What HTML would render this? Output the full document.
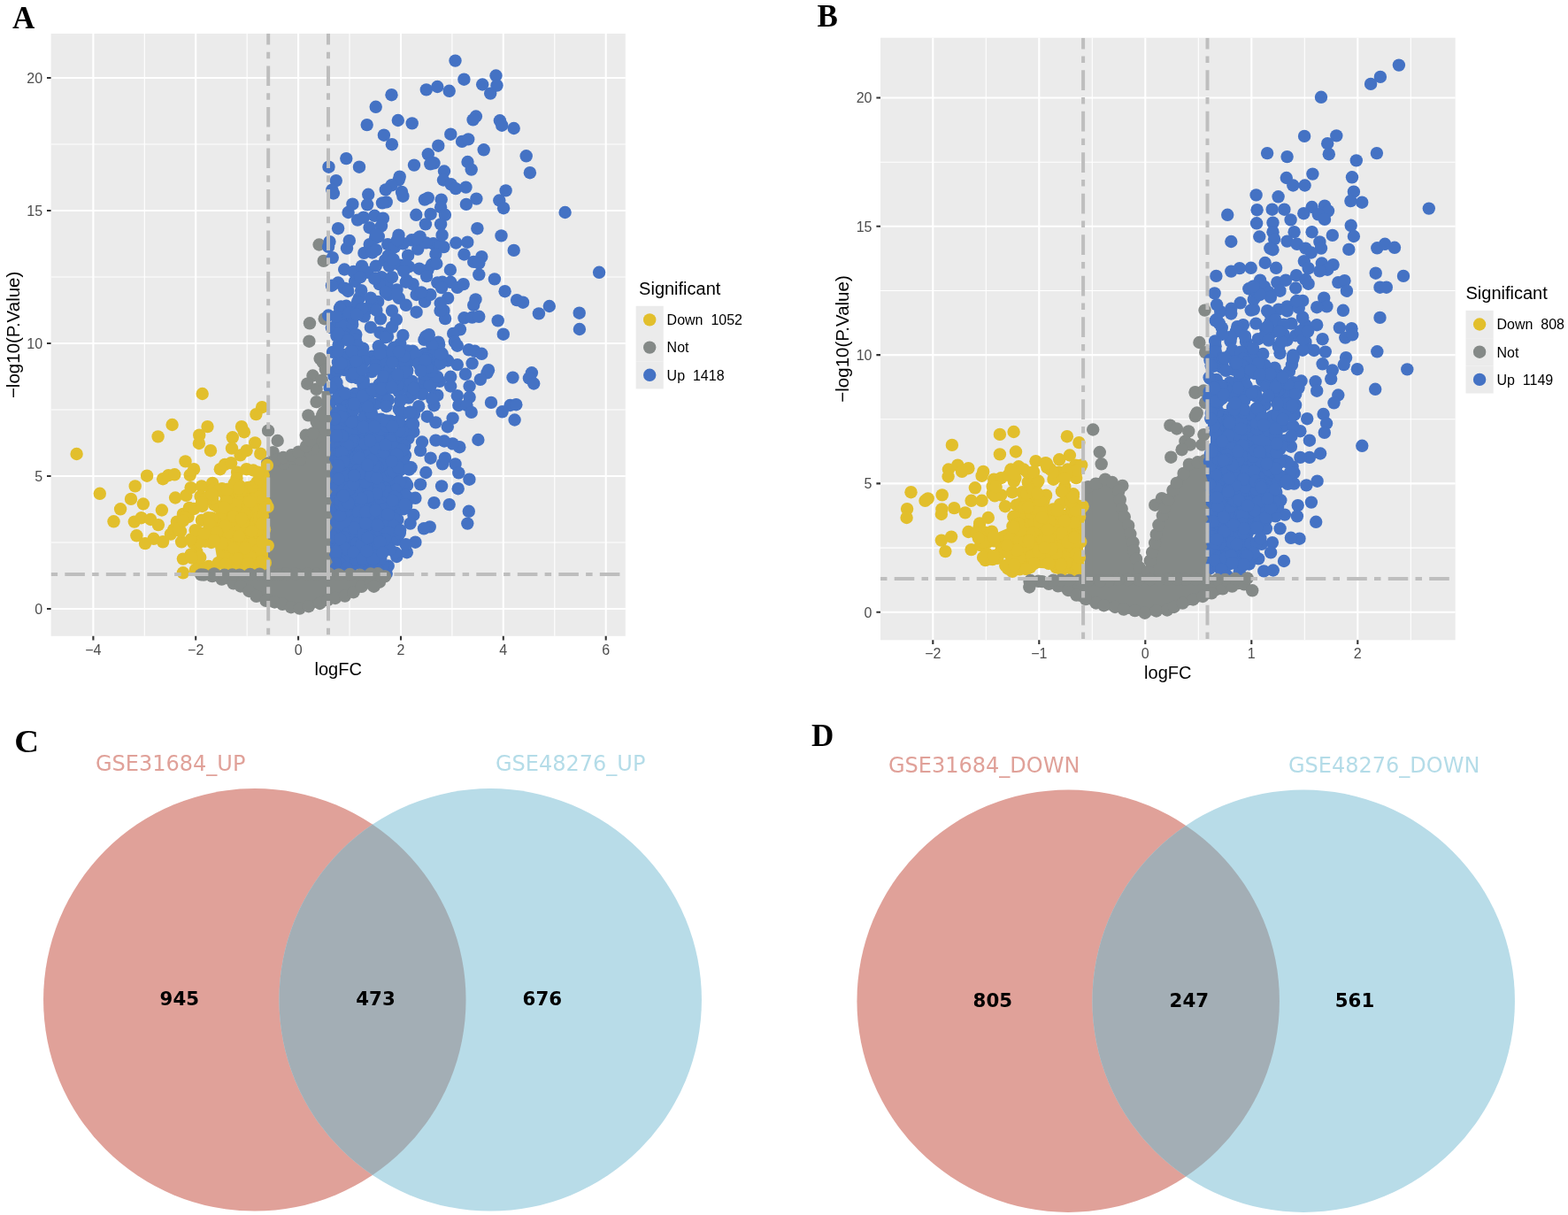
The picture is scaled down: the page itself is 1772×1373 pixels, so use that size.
<!DOCTYPE html>
<html><head><meta charset="utf-8"><title>Figure</title><style>
*{margin:0;padding:0}
html,body{width:1772px;height:1373px;background:#fff;overflow:hidden}
svg{display:block}
.tk{font-family:"Liberation Sans",Arial,sans-serif;font-size:16px;fill:#4D4D4D}
.ti{font-family:"Liberation Sans",Arial,sans-serif;font-size:20px;fill:#000}
.lg{font-family:"Liberation Sans",Arial,sans-serif;font-size:16px;fill:#000}
.pl{font-family:"Liberation Serif","Times New Roman",serif;font-size:35px;font-weight:bold;fill:#000}
.vl{font-family:"DejaVu Sans",sans-serif;font-size:24px}
.vn{font-family:"DejaVu Sans",sans-serif;font-size:21.3px;font-weight:bold;fill:#000}
</style></head>
<body><svg width="1772" height="1373" viewBox="0 0 1772 1373">
<rect width="1772" height="1373" fill="#fff"/>
<clipPath id="clipA"><rect x="57.6" y="38" width="649.2" height="680.8"/></clipPath>
<rect x="57.6" y="38" width="649.2" height="680.8" fill="#EBEBEB"/>
<path d="M163.3 38V718.8M279.2 38V718.8M395 38V718.8M510.9 38V718.8M626.8 38V718.8M57.6 613H706.8M57.6 463H706.8M57.6 313H706.8M57.6 163H706.8" stroke="#fff" stroke-width="1.1" fill="none"/>
<path d="M105.4 38V718.8M221.2 38V718.8M337.1 38V718.8M453 38V718.8M568.8 38V718.8M684.7 38V718.8M57.6 688H706.8M57.6 538H706.8M57.6 388H706.8M57.6 238H706.8M57.6 88H706.8" stroke="#fff" stroke-width="2.1" fill="none"/>
<g clip-path="url(#clipA)">
<polygon points="303.0,649.0 303.0,524.0 312.0,520.0 322.0,516.0 333.0,513.0 343.0,508.0 350.0,498.0 356.0,486.0 362.0,472.0 371.0,458.0 371.0,649.0" fill="#848987" stroke="#848987" stroke-width="8.5" stroke-linejoin="round"/>
<g fill="#848987"><circle cx="360.6" cy="276.5" r="7.2"/><circle cx="365.7" cy="294.9" r="7.2"/><circle cx="366.7" cy="360.2" r="7.2"/><circle cx="350.0" cy="365.3" r="7.2"/><circle cx="349.4" cy="385.7" r="7.2"/><circle cx="361.6" cy="405.1" r="7.2"/><circle cx="353.5" cy="424.5" r="7.2"/><circle cx="347.3" cy="433.7" r="7.2"/><circle cx="357.6" cy="439.8" r="7.2"/><circle cx="363.7" cy="429.6" r="7.2"/><circle cx="357.6" cy="454.1" r="7.2"/><circle cx="348.4" cy="469.4" r="7.2"/><circle cx="357.6" cy="476.5" r="7.2"/><circle cx="365.7" cy="466.3" r="7.2"/><circle cx="345.7" cy="491.8" r="7.2"/><circle cx="303.1" cy="486.7" r="7.2"/><circle cx="313.7" cy="498.0" r="7.2"/><circle cx="308.6" cy="511.2" r="7.2"/><circle cx="331.0" cy="517.3" r="7.2"/><circle cx="339.2" cy="519.4" r="7.2"/><circle cx="320.8" cy="523.5" r="7.2"/><circle cx="357.6" cy="494.9" r="7.2"/><circle cx="365.7" cy="484.7" r="7.2"/><circle cx="353.5" cy="507.1" r="7.2"/><circle cx="364.7" cy="409.2" r="7.2"/><circle cx="367.8" cy="417.3" r="7.2"/><circle cx="302.2" cy="523.4" r="7.2"/><circle cx="312.5" cy="519.3" r="7.2"/><circle cx="320.0" cy="517.0" r="7.2"/><circle cx="329.4" cy="514.3" r="7.2"/><circle cx="337.4" cy="510.7" r="7.2"/><circle cx="346.0" cy="504.2" r="7.2"/><circle cx="350.8" cy="497.7" r="7.2"/><circle cx="353.9" cy="489.4" r="7.2"/><circle cx="358.8" cy="477.9" r="7.2"/><circle cx="364.2" cy="469.4" r="7.2"/><circle cx="370.4" cy="458.2" r="7.2"/></g>
<polygon points="303.0,540.0 260.0,556.0 245.0,575.0 240.0,600.0 245.0,630.0 250.0,645.0 303.0,645.0" fill="#E2BF2C"/>
<g fill="#E2BF2C"><circle cx="228.7" cy="445.0" r="7.2"/><circle cx="296.1" cy="460.2" r="7.2"/><circle cx="289.4" cy="468.1" r="7.2"/><circle cx="194.6" cy="480.0" r="7.2"/><circle cx="178.6" cy="493.4" r="7.2"/><circle cx="234.5" cy="482.1" r="7.2"/><circle cx="225.2" cy="491.7" r="7.2"/><circle cx="224.9" cy="501.0" r="7.2"/><circle cx="238.0" cy="509.2" r="7.2"/><circle cx="273.0" cy="482.1" r="7.2"/><circle cx="275.9" cy="488.2" r="7.2"/><circle cx="262.8" cy="494.3" r="7.2"/><circle cx="262.0" cy="506.6" r="7.2"/><circle cx="271.6" cy="514.4" r="7.2"/><circle cx="278.6" cy="509.2" r="7.2"/><circle cx="288.2" cy="500.4" r="7.2"/><circle cx="294.3" cy="512.7" r="7.2"/><circle cx="86.6" cy="513.0" r="7.2"/><circle cx="209.5" cy="521.4" r="7.2"/><circle cx="219.1" cy="530.2" r="7.2"/><circle cx="214.7" cy="536.8" r="7.2"/><circle cx="166.1" cy="537.7" r="7.2"/><circle cx="184.1" cy="541.2" r="7.2"/><circle cx="190.3" cy="537.2" r="7.2"/><circle cx="197.3" cy="536.3" r="7.2"/><circle cx="152.7" cy="549.4" r="7.2"/><circle cx="112.8" cy="557.8" r="7.2"/><circle cx="148.0" cy="563.9" r="7.2"/><circle cx="161.9" cy="569.5" r="7.2"/><circle cx="136.1" cy="575.3" r="7.2"/><circle cx="182.9" cy="576.5" r="7.2"/><circle cx="128.5" cy="589.3" r="7.2"/><circle cx="151.8" cy="589.6" r="7.2"/><circle cx="159.7" cy="585.2" r="7.2"/><circle cx="170.2" cy="587.0" r="7.2"/><circle cx="178.9" cy="593.1" r="7.2"/><circle cx="154.4" cy="605.3" r="7.2"/><circle cx="164.0" cy="614.1" r="7.2"/><circle cx="173.7" cy="608.8" r="7.2"/><circle cx="184.1" cy="612.3" r="7.2"/><circle cx="198.1" cy="562.5" r="7.2"/><circle cx="210.4" cy="559.9" r="7.2"/><circle cx="215.6" cy="551.1" r="7.2"/><circle cx="227.9" cy="549.4" r="7.2"/><circle cx="240.1" cy="545.9" r="7.2"/><circle cx="248.8" cy="530.2" r="7.2"/><circle cx="254.1" cy="524.9" r="7.2"/><circle cx="261.1" cy="523.2" r="7.2"/><circle cx="278.6" cy="530.2" r="7.2"/><circle cx="268.1" cy="533.7" r="7.2"/><circle cx="199.9" cy="589.6" r="7.2"/><circle cx="206.9" cy="580.9" r="7.2"/><circle cx="213.9" cy="573.9" r="7.2"/><circle cx="227.9" cy="587.9" r="7.2"/><circle cx="206.9" cy="631.6" r="7.2"/><circle cx="206.9" cy="647.3" r="7.2"/><circle cx="220.9" cy="643.8" r="7.2"/><circle cx="205.1" cy="612.3" r="7.2"/><circle cx="192.9" cy="603.6" r="7.2"/><circle cx="196.4" cy="598.4" r="7.2"/><circle cx="217.0" cy="610.5" r="7.2"/><circle cx="265.4" cy="584.4" r="7.2"/><circle cx="222.2" cy="623.3" r="7.2"/><circle cx="283.2" cy="588.5" r="7.2"/><circle cx="252.0" cy="554.3" r="7.2"/><circle cx="281.8" cy="553.8" r="7.2"/><circle cx="302.7" cy="616.6" r="7.2"/><circle cx="290.1" cy="601.4" r="7.2"/><circle cx="298.1" cy="570.7" r="7.2"/><circle cx="215.9" cy="626.4" r="7.2"/><circle cx="246.7" cy="593.4" r="7.2"/><circle cx="235.3" cy="585.1" r="7.2"/><circle cx="289.2" cy="554.1" r="7.2"/><circle cx="280.4" cy="550.9" r="7.2"/><circle cx="299.8" cy="635.9" r="7.2"/><circle cx="277.7" cy="619.6" r="7.2"/><circle cx="259.8" cy="615.5" r="7.2"/><circle cx="212.6" cy="584.1" r="7.2"/><circle cx="285.2" cy="549.9" r="7.2"/><circle cx="295.1" cy="635.1" r="7.2"/><circle cx="242.2" cy="570.3" r="7.2"/><circle cx="246.5" cy="572.8" r="7.2"/><circle cx="302.5" cy="572.9" r="7.2"/><circle cx="274.0" cy="648.1" r="7.2"/><circle cx="251.1" cy="586.0" r="7.2"/><circle cx="256.7" cy="617.8" r="7.2"/><circle cx="222.9" cy="600.5" r="7.2"/><circle cx="257.3" cy="602.2" r="7.2"/><circle cx="235.9" cy="640.0" r="7.2"/><circle cx="235.7" cy="599.1" r="7.2"/><circle cx="280.0" cy="571.5" r="7.2"/><circle cx="270.4" cy="608.8" r="7.2"/><circle cx="292.6" cy="643.8" r="7.2"/><circle cx="241.9" cy="647.6" r="7.2"/><circle cx="299.0" cy="598.2" r="7.2"/><circle cx="291.0" cy="585.9" r="7.2"/><circle cx="238.7" cy="555.7" r="7.2"/><circle cx="290.2" cy="545.1" r="7.2"/><circle cx="279.7" cy="584.9" r="7.2"/><circle cx="286.2" cy="531.5" r="7.2"/><circle cx="226.6" cy="560.9" r="7.2"/><circle cx="292.6" cy="646.9" r="7.2"/><circle cx="276.8" cy="584.4" r="7.2"/><circle cx="226.0" cy="643.9" r="7.2"/><circle cx="254.1" cy="615.3" r="7.2"/><circle cx="286.3" cy="623.6" r="7.2"/><circle cx="290.8" cy="599.6" r="7.2"/><circle cx="243.9" cy="597.1" r="7.2"/><circle cx="287.5" cy="563.2" r="7.2"/><circle cx="255.0" cy="559.2" r="7.2"/><circle cx="270.6" cy="643.3" r="7.2"/><circle cx="202.4" cy="598.6" r="7.2"/><circle cx="266.3" cy="630.6" r="7.2"/><circle cx="260.2" cy="556.9" r="7.2"/><circle cx="241.8" cy="643.9" r="7.2"/><circle cx="293.3" cy="541.6" r="7.2"/><circle cx="267.5" cy="540.7" r="7.2"/><circle cx="255.5" cy="565.2" r="7.2"/><circle cx="250.9" cy="552.2" r="7.2"/><circle cx="238.9" cy="613.0" r="7.2"/><circle cx="273.2" cy="633.4" r="7.2"/><circle cx="279.7" cy="623.0" r="7.2"/><circle cx="218.1" cy="613.2" r="7.2"/><circle cx="226.0" cy="611.4" r="7.2"/><circle cx="240.1" cy="563.4" r="7.2"/><circle cx="292.8" cy="561.6" r="7.2"/><circle cx="251.8" cy="593.1" r="7.2"/><circle cx="297.7" cy="537.2" r="7.2"/><circle cx="261.9" cy="588.0" r="7.2"/><circle cx="275.7" cy="644.9" r="7.2"/><circle cx="231.9" cy="611.7" r="7.2"/><circle cx="254.2" cy="594.5" r="7.2"/><circle cx="300.6" cy="569.0" r="7.2"/><circle cx="232.8" cy="648.2" r="7.2"/><circle cx="278.3" cy="580.6" r="7.2"/><circle cx="266.4" cy="579.9" r="7.2"/><circle cx="253.3" cy="573.3" r="7.2"/><circle cx="241.4" cy="553.0" r="7.2"/><circle cx="225.4" cy="612.3" r="7.2"/><circle cx="284.2" cy="614.7" r="7.2"/><circle cx="247.0" cy="554.3" r="7.2"/><circle cx="239.7" cy="585.4" r="7.2"/><circle cx="265.1" cy="644.4" r="7.2"/><circle cx="208.8" cy="584.5" r="7.2"/><circle cx="250.7" cy="613.9" r="7.2"/><circle cx="291.7" cy="621.7" r="7.2"/><circle cx="264.6" cy="619.1" r="7.2"/><circle cx="268.8" cy="631.5" r="7.2"/><circle cx="272.0" cy="609.7" r="7.2"/><circle cx="225.3" cy="638.7" r="7.2"/><circle cx="239.8" cy="601.2" r="7.2"/><circle cx="285.0" cy="644.5" r="7.2"/><circle cx="301.9" cy="525.8" r="7.2"/><circle cx="232.2" cy="563.7" r="7.2"/><circle cx="231.2" cy="642.0" r="7.2"/><circle cx="276.5" cy="582.3" r="7.2"/><circle cx="272.5" cy="550.5" r="7.2"/><circle cx="234.5" cy="604.6" r="7.2"/><circle cx="270.2" cy="557.3" r="7.2"/><circle cx="298.0" cy="564.9" r="7.2"/><circle cx="226.2" cy="629.8" r="7.2"/><circle cx="215.8" cy="609.5" r="7.2"/><circle cx="220.6" cy="599.1" r="7.2"/><circle cx="228.6" cy="572.0" r="7.2"/><circle cx="296.9" cy="582.9" r="7.2"/><circle cx="245.0" cy="601.5" r="7.2"/><circle cx="239.6" cy="558.8" r="7.2"/><circle cx="296.3" cy="612.4" r="7.2"/><circle cx="204.0" cy="600.4" r="7.2"/><circle cx="272.1" cy="554.8" r="7.2"/><circle cx="200.8" cy="592.5" r="7.2"/><circle cx="246.8" cy="635.9" r="7.2"/><circle cx="281.5" cy="627.0" r="7.2"/><circle cx="219.3" cy="575.0" r="7.2"/><circle cx="256.8" cy="552.9" r="7.2"/><circle cx="282.6" cy="629.6" r="7.2"/><circle cx="295.3" cy="634.6" r="7.2"/><circle cx="201.8" cy="597.2" r="7.2"/><circle cx="276.9" cy="619.2" r="7.2"/><circle cx="284.0" cy="600.2" r="7.2"/><circle cx="263.9" cy="583.4" r="7.2"/><circle cx="282.4" cy="566.9" r="7.2"/><circle cx="227.8" cy="568.8" r="7.2"/><circle cx="230.7" cy="602.8" r="7.2"/><circle cx="291.7" cy="533.8" r="7.2"/><circle cx="207.0" cy="588.5" r="7.2"/><circle cx="269.8" cy="548.5" r="7.2"/><circle cx="270.1" cy="606.0" r="7.2"/><circle cx="295.9" cy="591.8" r="7.2"/><circle cx="242.1" cy="610.7" r="7.2"/><circle cx="275.0" cy="590.0" r="7.2"/><circle cx="236.3" cy="591.0" r="7.2"/><circle cx="264.7" cy="546.6" r="7.2"/><circle cx="273.1" cy="586.2" r="7.2"/><circle cx="216.7" cy="630.5" r="7.2"/><circle cx="283.1" cy="637.4" r="7.2"/><circle cx="270.0" cy="551.9" r="7.2"/><circle cx="280.1" cy="636.9" r="7.2"/><circle cx="254.9" cy="637.7" r="7.2"/><circle cx="299.9" cy="573.4" r="7.2"/></g>
<polygon points="373.0,470.0 455.0,470.0 455.0,540.0 452.0,600.0 445.0,620.0 430.0,635.0 373.0,644.0" fill="#4472C4"/>
<g fill="#4472C4"><circle cx="514.5" cy="68.6" r="7.2"/><circle cx="524.4" cy="89.7" r="7.2"/><circle cx="560.5" cy="85.5" r="7.2"/><circle cx="545.2" cy="95.5" r="7.2"/><circle cx="561.5" cy="96.6" r="7.2"/><circle cx="554.2" cy="105.6" r="7.2"/><circle cx="481.8" cy="101.4" r="7.2"/><circle cx="494.3" cy="98.0" r="7.2"/><circle cx="507.7" cy="102.8" r="7.2"/><circle cx="442.5" cy="107.2" r="7.2"/><circle cx="424.7" cy="120.8" r="7.2"/><circle cx="414.7" cy="141.1" r="7.2"/><circle cx="449.8" cy="136.0" r="7.2"/><circle cx="465.7" cy="139.4" r="7.2"/><circle cx="433.9" cy="152.7" r="7.2"/><circle cx="442.9" cy="163.2" r="7.2"/><circle cx="537.9" cy="131.5" r="7.2"/><circle cx="534.6" cy="135.4" r="7.2"/><circle cx="564.9" cy="136.3" r="7.2"/><circle cx="567.2" cy="141.7" r="7.2"/><circle cx="580.7" cy="145.0" r="7.2"/><circle cx="509.3" cy="151.7" r="7.2"/><circle cx="522.1" cy="159.9" r="7.2"/><circle cx="529.2" cy="157.4" r="7.2"/><circle cx="495.3" cy="164.7" r="7.2"/><circle cx="546.7" cy="169.3" r="7.2"/><circle cx="594.7" cy="176.3" r="7.2"/><circle cx="598.9" cy="195.2" r="7.2"/><circle cx="483.8" cy="174.3" r="7.2"/><circle cx="490.5" cy="184.3" r="7.2"/><circle cx="486.3" cy="185.3" r="7.2"/><circle cx="468.0" cy="186.6" r="7.2"/><circle cx="391.3" cy="179.1" r="7.2"/><circle cx="406.0" cy="188.7" r="7.2"/><circle cx="371.5" cy="188.7" r="7.2"/><circle cx="528.5" cy="183.0" r="7.2"/><circle cx="532.7" cy="191.6" r="7.2"/><circle cx="502.0" cy="193.5" r="7.2"/><circle cx="501.0" cy="203.5" r="7.2"/><circle cx="509.7" cy="208.3" r="7.2"/><circle cx="515.0" cy="213.1" r="7.2"/><circle cx="526.5" cy="211.6" r="7.2"/><circle cx="571.6" cy="215.4" r="7.2"/><circle cx="379.8" cy="204.1" r="7.2"/><circle cx="375.3" cy="214.6" r="7.2"/><circle cx="376.9" cy="218.5" r="7.2"/><circle cx="451.7" cy="199.7" r="7.2"/><circle cx="450.6" cy="203.5" r="7.2"/><circle cx="442.5" cy="209.3" r="7.2"/><circle cx="435.8" cy="214.4" r="7.2"/><circle cx="454.0" cy="216.9" r="7.2"/><circle cx="455.4" cy="221.7" r="7.2"/><circle cx="416.2" cy="219.8" r="7.2"/><circle cx="415.1" cy="231.3" r="7.2"/><circle cx="398.4" cy="230.7" r="7.2"/><circle cx="393.6" cy="240.0" r="7.2"/><circle cx="404.1" cy="248.6" r="7.2"/><circle cx="410.8" cy="245.7" r="7.2"/><circle cx="423.3" cy="243.8" r="7.2"/><circle cx="432.9" cy="246.7" r="7.2"/><circle cx="431.0" cy="255.3" r="7.2"/><circle cx="436.7" cy="228.4" r="7.2"/><circle cx="432.0" cy="229.4" r="7.2"/><circle cx="479.9" cy="225.6" r="7.2"/><circle cx="483.8" cy="223.6" r="7.2"/><circle cx="498.7" cy="225.6" r="7.2"/><circle cx="498.1" cy="234.2" r="7.2"/><circle cx="526.9" cy="230.9" r="7.2"/><circle cx="538.4" cy="224.6" r="7.2"/><circle cx="564.3" cy="226.5" r="7.2"/><circle cx="569.1" cy="235.2" r="7.2"/><circle cx="638.6" cy="240.0" r="7.2"/><circle cx="470.3" cy="242.8" r="7.2"/><circle cx="486.6" cy="241.9" r="7.2"/><circle cx="502.9" cy="242.8" r="7.2"/><circle cx="480.9" cy="253.4" r="7.2"/><circle cx="498.1" cy="253.4" r="7.2"/><circle cx="382.1" cy="258.2" r="7.2"/><circle cx="417.6" cy="257.2" r="7.2"/><circle cx="539.4" cy="258.2" r="7.2"/><circle cx="566.5" cy="266.4" r="7.2"/><circle cx="515.3" cy="274.5" r="7.2"/><circle cx="528.3" cy="273.7" r="7.2"/><circle cx="501.5" cy="279.1" r="7.2"/><circle cx="524.5" cy="287.5" r="7.2"/><circle cx="544.3" cy="290.1" r="7.2"/><circle cx="535.2" cy="295.9" r="7.2"/><circle cx="541.3" cy="297.4" r="7.2"/><circle cx="580.7" cy="282.9" r="7.2"/><circle cx="508.9" cy="305.0" r="7.2"/><circle cx="541.3" cy="310.4" r="7.2"/><circle cx="558.9" cy="315.4" r="7.2"/><circle cx="677.1" cy="307.8" r="7.2"/><circle cx="500.0" cy="318.8" r="7.2"/><circle cx="509.2" cy="318.8" r="7.2"/><circle cx="516.8" cy="324.9" r="7.2"/><circle cx="523.7" cy="321.1" r="7.2"/><circle cx="570.6" cy="329.2" r="7.2"/><circle cx="584.1" cy="339.1" r="7.2"/><circle cx="591.0" cy="341.7" r="7.2"/><circle cx="620.8" cy="346.0" r="7.2"/><circle cx="608.9" cy="354.4" r="7.2"/><circle cx="654.7" cy="353.7" r="7.2"/><circle cx="654.9" cy="372.0" r="7.2"/><circle cx="506.1" cy="336.9" r="7.2"/><circle cx="537.5" cy="338.4" r="7.2"/><circle cx="535.2" cy="344.8" r="7.2"/><circle cx="501.5" cy="350.9" r="7.2"/><circle cx="503.1" cy="360.1" r="7.2"/><circle cx="524.5" cy="359.3" r="7.2"/><circle cx="533.6" cy="358.6" r="7.2"/><circle cx="541.3" cy="357.8" r="7.2"/><circle cx="562.7" cy="362.4" r="7.2"/><circle cx="568.8" cy="377.7" r="7.2"/><circle cx="519.9" cy="372.3" r="7.2"/><circle cx="512.2" cy="376.9" r="7.2"/><circle cx="513.8" cy="386.1" r="7.2"/><circle cx="516.8" cy="390.7" r="7.2"/><circle cx="529.8" cy="395.3" r="7.2"/><circle cx="536.7" cy="396.8" r="7.2"/><circle cx="544.3" cy="399.8" r="7.2"/><circle cx="533.6" cy="410.6" r="7.2"/><circle cx="506.1" cy="407.5" r="7.2"/><circle cx="516.8" cy="412.1" r="7.2"/><circle cx="526.0" cy="422.8" r="7.2"/><circle cx="552.0" cy="418.2" r="7.2"/><circle cx="550.5" cy="421.3" r="7.2"/><circle cx="542.8" cy="428.9" r="7.2"/><circle cx="530.6" cy="436.5" r="7.2"/><circle cx="509.2" cy="425.8" r="7.2"/><circle cx="509.2" cy="436.5" r="7.2"/><circle cx="516.8" cy="447.2" r="7.2"/><circle cx="530.6" cy="448.8" r="7.2"/><circle cx="579.5" cy="426.6" r="7.2"/><circle cx="600.9" cy="421.3" r="7.2"/><circle cx="597.9" cy="427.4" r="7.2"/><circle cx="603.2" cy="433.5" r="7.2"/><circle cx="555.0" cy="454.9" r="7.2"/><circle cx="576.5" cy="458.0" r="7.2"/><circle cx="583.3" cy="457.2" r="7.2"/><circle cx="518.3" cy="458.0" r="7.2"/><circle cx="527.5" cy="458.0" r="7.2"/><circle cx="371.1" cy="278.8" r="7.2"/><circle cx="375.8" cy="291.1" r="7.2"/><circle cx="424.0" cy="269.0" r="7.2"/><circle cx="417.7" cy="276.1" r="7.2"/><circle cx="411.4" cy="285.9" r="7.2"/><circle cx="438.2" cy="276.1" r="7.2"/><circle cx="443.0" cy="280.8" r="7.2"/><circle cx="465.1" cy="271.3" r="7.2"/><circle cx="474.6" cy="267.4" r="7.2"/><circle cx="472.2" cy="281.6" r="7.2"/><circle cx="489.6" cy="275.3" r="7.2"/><circle cx="497.5" cy="277.7" r="7.2"/><circle cx="461.1" cy="288.7" r="7.2"/><circle cx="488.0" cy="299.0" r="7.2"/><circle cx="483.3" cy="305.3" r="7.2"/><circle cx="473.8" cy="303.7" r="7.2"/><circle cx="389.2" cy="304.5" r="7.2"/><circle cx="399.5" cy="306.9" r="7.2"/><circle cx="409.0" cy="300.6" r="7.2"/><circle cx="415.3" cy="307.7" r="7.2"/><circle cx="424.8" cy="300.6" r="7.2"/><circle cx="435.1" cy="294.2" r="7.2"/><circle cx="439.8" cy="300.6" r="7.2"/><circle cx="452.4" cy="299.8" r="7.2"/><circle cx="461.9" cy="301.4" r="7.2"/><circle cx="431.1" cy="313.2" r="7.2"/><circle cx="437.4" cy="321.1" r="7.2"/><circle cx="443.0" cy="313.2" r="7.2"/><circle cx="382.1" cy="319.5" r="7.2"/><circle cx="375.0" cy="322.7" r="7.2"/><circle cx="392.4" cy="326.6" r="7.2"/><circle cx="401.1" cy="317.9" r="7.2"/><circle cx="408.2" cy="328.2" r="7.2"/><circle cx="405.8" cy="336.9" r="7.2"/><circle cx="466.7" cy="321.1" r="7.2"/><circle cx="458.8" cy="318.7" r="7.2"/><circle cx="470.6" cy="333.0" r="7.2"/><circle cx="480.1" cy="340.9" r="7.2"/><circle cx="486.4" cy="333.0" r="7.2"/><circle cx="494.3" cy="319.5" r="7.2"/><circle cx="499.1" cy="325.1" r="7.2"/><circle cx="385.3" cy="346.4" r="7.2"/><circle cx="427.2" cy="340.9" r="7.2"/><circle cx="420.0" cy="340.9" r="7.2"/><circle cx="439.0" cy="333.0" r="7.2"/><circle cx="450.9" cy="336.9" r="7.2"/><circle cx="458.8" cy="344.8" r="7.2"/><circle cx="497.5" cy="351.1" r="7.2"/><circle cx="404.2" cy="348.8" r="7.2"/><circle cx="415.3" cy="348.8" r="7.2"/><circle cx="443.0" cy="351.1" r="7.2"/><circle cx="470.6" cy="352.7" r="7.2"/><circle cx="428.7" cy="321.1" r="7.2"/><circle cx="448.5" cy="327.4" r="7.2"/><circle cx="423.2" cy="314.8" r="7.2"/><circle cx="567.6" cy="465.3" r="7.2"/><circle cx="581.6" cy="474.5" r="7.2"/><circle cx="540.4" cy="497.0" r="7.2"/><circle cx="532.7" cy="465.9" r="7.2"/><circle cx="482.8" cy="470.7" r="7.2"/><circle cx="492.4" cy="477.4" r="7.2"/><circle cx="505.8" cy="482.2" r="7.2"/><circle cx="511.6" cy="472.6" r="7.2"/><circle cx="519.3" cy="505.2" r="7.2"/><circle cx="511.6" cy="501.4" r="7.2"/><circle cx="502.0" cy="498.5" r="7.2"/><circle cx="492.4" cy="497.6" r="7.2"/><circle cx="475.1" cy="509.1" r="7.2"/><circle cx="486.6" cy="517.7" r="7.2"/><circle cx="500.1" cy="524.4" r="7.2"/><circle cx="502.9" cy="517.7" r="7.2"/><circle cx="514.5" cy="524.4" r="7.2"/><circle cx="518.3" cy="534.4" r="7.2"/><circle cx="530.4" cy="541.7" r="7.2"/><circle cx="481.3" cy="534.0" r="7.2"/><circle cx="499.1" cy="549.4" r="7.2"/><circle cx="517.7" cy="552.2" r="7.2"/><circle cx="490.5" cy="568.2" r="7.2"/><circle cx="507.7" cy="570.1" r="7.2"/><circle cx="529.8" cy="577.8" r="7.2"/><circle cx="528.3" cy="591.6" r="7.2"/><circle cx="485.7" cy="595.4" r="7.2"/><circle cx="479.0" cy="597.3" r="7.2"/><circle cx="467.4" cy="582.0" r="7.2"/><circle cx="463.6" cy="591.6" r="7.2"/><circle cx="469.4" cy="612.7" r="7.2"/><circle cx="459.8" cy="624.2" r="7.2"/><circle cx="448.3" cy="629.0" r="7.2"/><circle cx="438.7" cy="639.5" r="7.2"/><circle cx="436.7" cy="648.2" r="7.2"/><circle cx="464.6" cy="528.3" r="7.2"/><circle cx="475.1" cy="547.4" r="7.2"/><circle cx="469.4" cy="562.8" r="7.2"/><circle cx="467.4" cy="488.0" r="7.2"/><circle cx="477.0" cy="499.5" r="7.2"/><circle cx="490.5" cy="458.2" r="7.2"/><circle cx="473.2" cy="459.2" r="7.2"/><circle cx="494.3" cy="446.7" r="7.2"/><circle cx="445.1" cy="297.6" r="7.2"/><circle cx="446.0" cy="279.1" r="7.2"/><circle cx="476.1" cy="330.4" r="7.2"/><circle cx="455.6" cy="275.3" r="7.2"/><circle cx="438.6" cy="289.2" r="7.2"/><circle cx="404.0" cy="341.1" r="7.2"/><circle cx="499.6" cy="265.7" r="7.2"/><circle cx="482.1" cy="312.1" r="7.2"/><circle cx="420.8" cy="285.5" r="7.2"/><circle cx="458.4" cy="299.9" r="7.2"/><circle cx="459.8" cy="316.9" r="7.2"/><circle cx="389.0" cy="325.7" r="7.2"/><circle cx="497.7" cy="342.5" r="7.2"/><circle cx="450.5" cy="265.7" r="7.2"/><circle cx="372.5" cy="273.1" r="7.2"/><circle cx="492.4" cy="287.1" r="7.2"/><circle cx="418.9" cy="336.6" r="7.2"/><circle cx="412.2" cy="307.6" r="7.2"/><circle cx="427.8" cy="267.4" r="7.2"/><circle cx="446.8" cy="332.1" r="7.2"/><circle cx="392.0" cy="280.6" r="7.2"/><circle cx="424.8" cy="265.1" r="7.2"/><circle cx="435.6" cy="329.9" r="7.2"/><circle cx="456.2" cy="306.3" r="7.2"/><circle cx="481.5" cy="274.4" r="7.2"/><circle cx="444.6" cy="293.1" r="7.2"/><circle cx="449.0" cy="271.4" r="7.2"/><circle cx="471.3" cy="270.0" r="7.2"/><circle cx="393.3" cy="329.0" r="7.2"/><circle cx="493.3" cy="298.0" r="7.2"/><circle cx="425.0" cy="282.4" r="7.2"/><circle cx="407.2" cy="313.2" r="7.2"/><circle cx="394.8" cy="271.9" r="7.2"/><circle cx="429.4" cy="375.8" r="7.2"/><circle cx="436.5" cy="377.3" r="7.2"/><circle cx="394.8" cy="373.2" r="7.2"/><circle cx="452.3" cy="388.6" r="7.2"/><circle cx="383.1" cy="361.7" r="7.2"/><circle cx="382.7" cy="389.5" r="7.2"/><circle cx="497.7" cy="398.1" r="7.2"/><circle cx="455.4" cy="378.9" r="7.2"/><circle cx="391.3" cy="345.8" r="7.2"/><circle cx="395.5" cy="358.3" r="7.2"/><circle cx="374.9" cy="370.5" r="7.2"/><circle cx="427.8" cy="391.3" r="7.2"/><circle cx="438.0" cy="380.2" r="7.2"/><circle cx="435.5" cy="381.4" r="7.2"/><circle cx="430.0" cy="360.3" r="7.2"/><circle cx="499.7" cy="399.8" r="7.2"/><circle cx="479.4" cy="383.9" r="7.2"/><circle cx="411.7" cy="357.6" r="7.2"/><circle cx="408.3" cy="348.9" r="7.2"/><circle cx="494.6" cy="391.6" r="7.2"/><circle cx="371.1" cy="356.5" r="7.2"/><circle cx="380.4" cy="379.6" r="7.2"/><circle cx="382.2" cy="363.3" r="7.2"/><circle cx="495.4" cy="386.7" r="7.2"/><circle cx="386.2" cy="358.6" r="7.2"/><circle cx="384.0" cy="348.3" r="7.2"/><circle cx="443.1" cy="369.6" r="7.2"/><circle cx="395.6" cy="385.3" r="7.2"/><circle cx="387.9" cy="380.4" r="7.2"/><circle cx="386.0" cy="368.1" r="7.2"/><circle cx="398.5" cy="359.8" r="7.2"/><circle cx="496.2" cy="389.2" r="7.2"/><circle cx="410.2" cy="393.7" r="7.2"/><circle cx="398.2" cy="366.7" r="7.2"/><circle cx="481.2" cy="380.3" r="7.2"/><circle cx="383.9" cy="399.4" r="7.2"/><circle cx="398.5" cy="359.2" r="7.2"/><circle cx="409.2" cy="349.0" r="7.2"/><circle cx="382.6" cy="377.1" r="7.2"/><circle cx="402.3" cy="378.1" r="7.2"/><circle cx="418.9" cy="369.9" r="7.2"/><circle cx="445.1" cy="392.7" r="7.2"/><circle cx="394.6" cy="353.5" r="7.2"/><circle cx="488.2" cy="390.0" r="7.2"/><circle cx="403.2" cy="355.4" r="7.2"/><circle cx="466.4" cy="396.7" r="7.2"/><circle cx="396.4" cy="397.3" r="7.2"/><circle cx="484.8" cy="378.2" r="7.2"/><circle cx="425.4" cy="350.7" r="7.2"/><circle cx="376.0" cy="397.9" r="7.2"/><circle cx="401.8" cy="383.8" r="7.2"/><circle cx="404.2" cy="390.3" r="7.2"/><circle cx="447.9" cy="361.1" r="7.2"/><circle cx="393.6" cy="384.6" r="7.2"/><circle cx="379.9" cy="357.6" r="7.2"/><circle cx="432.2" cy="562.7" r="7.2"/><circle cx="457.0" cy="431.4" r="7.2"/><circle cx="372.4" cy="490.6" r="7.2"/><circle cx="406.4" cy="601.6" r="7.2"/><circle cx="460.1" cy="548.4" r="7.2"/><circle cx="443.0" cy="563.6" r="7.2"/><circle cx="389.7" cy="507.2" r="7.2"/><circle cx="391.9" cy="626.0" r="7.2"/><circle cx="378.6" cy="603.8" r="7.2"/><circle cx="380.6" cy="570.2" r="7.2"/><circle cx="414.5" cy="498.2" r="7.2"/><circle cx="479.7" cy="399.7" r="7.2"/><circle cx="378.8" cy="628.3" r="7.2"/><circle cx="436.7" cy="418.2" r="7.2"/><circle cx="385.5" cy="502.9" r="7.2"/><circle cx="388.4" cy="474.7" r="7.2"/><circle cx="451.2" cy="436.7" r="7.2"/><circle cx="460.9" cy="408.1" r="7.2"/><circle cx="393.1" cy="603.0" r="7.2"/><circle cx="422.7" cy="501.8" r="7.2"/><circle cx="447.9" cy="516.6" r="7.2"/><circle cx="420.6" cy="402.8" r="7.2"/><circle cx="417.0" cy="487.6" r="7.2"/><circle cx="460.0" cy="566.8" r="7.2"/><circle cx="385.7" cy="454.9" r="7.2"/><circle cx="417.9" cy="525.4" r="7.2"/><circle cx="374.6" cy="604.8" r="7.2"/><circle cx="426.5" cy="527.3" r="7.2"/><circle cx="399.7" cy="503.9" r="7.2"/><circle cx="421.1" cy="591.8" r="7.2"/><circle cx="384.2" cy="535.2" r="7.2"/><circle cx="394.0" cy="572.5" r="7.2"/><circle cx="375.8" cy="465.5" r="7.2"/><circle cx="415.4" cy="557.4" r="7.2"/><circle cx="377.7" cy="512.1" r="7.2"/><circle cx="397.9" cy="466.9" r="7.2"/><circle cx="432.4" cy="639.5" r="7.2"/><circle cx="433.1" cy="638.8" r="7.2"/><circle cx="392.6" cy="630.7" r="7.2"/><circle cx="418.0" cy="443.3" r="7.2"/><circle cx="371.9" cy="463.4" r="7.2"/><circle cx="402.2" cy="397.2" r="7.2"/><circle cx="376.2" cy="552.9" r="7.2"/><circle cx="436.0" cy="401.1" r="7.2"/><circle cx="412.6" cy="595.8" r="7.2"/><circle cx="400.6" cy="529.4" r="7.2"/><circle cx="432.6" cy="554.9" r="7.2"/><circle cx="404.9" cy="636.4" r="7.2"/><circle cx="486.4" cy="436.3" r="7.2"/><circle cx="408.6" cy="617.7" r="7.2"/><circle cx="406.9" cy="635.7" r="7.2"/><circle cx="437.5" cy="572.5" r="7.2"/><circle cx="461.9" cy="449.6" r="7.2"/><circle cx="407.8" cy="460.0" r="7.2"/><circle cx="459.1" cy="572.0" r="7.2"/><circle cx="388.0" cy="621.0" r="7.2"/><circle cx="425.2" cy="456.5" r="7.2"/><circle cx="427.2" cy="644.8" r="7.2"/><circle cx="443.2" cy="554.3" r="7.2"/><circle cx="446.9" cy="624.7" r="7.2"/><circle cx="415.8" cy="489.0" r="7.2"/><circle cx="373.2" cy="576.1" r="7.2"/><circle cx="440.0" cy="596.2" r="7.2"/><circle cx="420.0" cy="420.1" r="7.2"/><circle cx="416.6" cy="474.6" r="7.2"/><circle cx="440.9" cy="553.6" r="7.2"/><circle cx="387.1" cy="531.2" r="7.2"/><circle cx="461.4" cy="495.5" r="7.2"/><circle cx="402.7" cy="498.8" r="7.2"/><circle cx="412.7" cy="569.7" r="7.2"/><circle cx="389.3" cy="418.1" r="7.2"/><circle cx="411.3" cy="572.4" r="7.2"/><circle cx="374.8" cy="519.4" r="7.2"/><circle cx="428.2" cy="440.7" r="7.2"/><circle cx="457.1" cy="482.0" r="7.2"/><circle cx="401.7" cy="478.5" r="7.2"/><circle cx="417.5" cy="466.3" r="7.2"/><circle cx="397.0" cy="505.3" r="7.2"/><circle cx="399.4" cy="629.3" r="7.2"/><circle cx="435.6" cy="573.0" r="7.2"/><circle cx="391.9" cy="513.5" r="7.2"/><circle cx="449.2" cy="609.9" r="7.2"/><circle cx="403.2" cy="512.2" r="7.2"/><circle cx="400.3" cy="532.2" r="7.2"/><circle cx="457.9" cy="564.1" r="7.2"/><circle cx="458.8" cy="484.3" r="7.2"/><circle cx="465.5" cy="477.2" r="7.2"/><circle cx="435.5" cy="487.0" r="7.2"/><circle cx="410.6" cy="429.7" r="7.2"/><circle cx="400.1" cy="533.8" r="7.2"/><circle cx="403.5" cy="406.7" r="7.2"/><circle cx="421.2" cy="617.6" r="7.2"/><circle cx="387.2" cy="558.4" r="7.2"/><circle cx="450.7" cy="462.1" r="7.2"/><circle cx="423.5" cy="491.8" r="7.2"/><circle cx="420.6" cy="496.9" r="7.2"/><circle cx="475.1" cy="438.3" r="7.2"/><circle cx="397.5" cy="459.9" r="7.2"/><circle cx="377.8" cy="608.0" r="7.2"/><circle cx="417.3" cy="582.3" r="7.2"/><circle cx="410.4" cy="430.0" r="7.2"/><circle cx="398.2" cy="619.4" r="7.2"/><circle cx="374.2" cy="473.6" r="7.2"/><circle cx="372.7" cy="438.6" r="7.2"/><circle cx="392.1" cy="577.5" r="7.2"/><circle cx="409.3" cy="443.5" r="7.2"/><circle cx="394.7" cy="474.6" r="7.2"/><circle cx="384.2" cy="569.7" r="7.2"/><circle cx="440.2" cy="509.4" r="7.2"/><circle cx="439.1" cy="561.1" r="7.2"/><circle cx="453.0" cy="514.2" r="7.2"/><circle cx="452.8" cy="494.1" r="7.2"/><circle cx="424.5" cy="526.7" r="7.2"/><circle cx="463.2" cy="466.0" r="7.2"/><circle cx="426.1" cy="498.5" r="7.2"/><circle cx="449.4" cy="587.2" r="7.2"/><circle cx="479.2" cy="428.0" r="7.2"/><circle cx="379.0" cy="422.6" r="7.2"/><circle cx="381.9" cy="409.4" r="7.2"/><circle cx="372.1" cy="458.6" r="7.2"/><circle cx="385.6" cy="569.7" r="7.2"/><circle cx="493.5" cy="402.2" r="7.2"/><circle cx="400.4" cy="631.2" r="7.2"/><circle cx="432.3" cy="447.7" r="7.2"/><circle cx="441.1" cy="475.6" r="7.2"/><circle cx="402.2" cy="417.2" r="7.2"/><circle cx="409.5" cy="630.5" r="7.2"/><circle cx="448.4" cy="565.6" r="7.2"/><circle cx="372.6" cy="453.3" r="7.2"/><circle cx="433.2" cy="581.4" r="7.2"/><circle cx="414.8" cy="492.3" r="7.2"/><circle cx="433.6" cy="444.7" r="7.2"/><circle cx="451.6" cy="531.7" r="7.2"/><circle cx="417.7" cy="453.8" r="7.2"/><circle cx="420.7" cy="551.2" r="7.2"/><circle cx="387.4" cy="532.9" r="7.2"/><circle cx="403.5" cy="501.7" r="7.2"/><circle cx="384.2" cy="582.9" r="7.2"/><circle cx="452.5" cy="439.1" r="7.2"/><circle cx="441.7" cy="546.9" r="7.2"/><circle cx="445.5" cy="491.5" r="7.2"/><circle cx="411.0" cy="485.5" r="7.2"/><circle cx="435.8" cy="512.3" r="7.2"/><circle cx="393.3" cy="496.9" r="7.2"/><circle cx="397.4" cy="477.2" r="7.2"/><circle cx="418.4" cy="484.2" r="7.2"/><circle cx="413.9" cy="562.7" r="7.2"/><circle cx="422.2" cy="526.5" r="7.2"/><circle cx="454.5" cy="413.8" r="7.2"/><circle cx="457.6" cy="420.8" r="7.2"/><circle cx="403.3" cy="601.5" r="7.2"/><circle cx="393.1" cy="506.8" r="7.2"/><circle cx="407.5" cy="609.5" r="7.2"/><circle cx="401.1" cy="445.0" r="7.2"/><circle cx="453.3" cy="557.5" r="7.2"/><circle cx="447.1" cy="517.1" r="7.2"/><circle cx="431.0" cy="486.6" r="7.2"/><circle cx="401.9" cy="529.1" r="7.2"/><circle cx="456.4" cy="552.1" r="7.2"/><circle cx="463.1" cy="485.6" r="7.2"/><circle cx="410.5" cy="401.3" r="7.2"/><circle cx="421.3" cy="641.6" r="7.2"/><circle cx="487.4" cy="433.6" r="7.2"/><circle cx="411.5" cy="461.1" r="7.2"/><circle cx="424.4" cy="408.2" r="7.2"/><circle cx="377.5" cy="424.8" r="7.2"/><circle cx="410.6" cy="435.4" r="7.2"/><circle cx="386.7" cy="607.1" r="7.2"/><circle cx="420.0" cy="520.0" r="7.2"/><circle cx="389.8" cy="453.2" r="7.2"/><circle cx="418.3" cy="443.1" r="7.2"/><circle cx="442.2" cy="596.8" r="7.2"/><circle cx="404.6" cy="531.1" r="7.2"/><circle cx="487.9" cy="422.7" r="7.2"/><circle cx="450.6" cy="442.3" r="7.2"/><circle cx="454.1" cy="506.2" r="7.2"/><circle cx="373.8" cy="521.0" r="7.2"/><circle cx="417.3" cy="497.0" r="7.2"/><circle cx="381.0" cy="629.7" r="7.2"/><circle cx="438.3" cy="538.2" r="7.2"/><circle cx="441.9" cy="533.7" r="7.2"/><circle cx="487.2" cy="401.2" r="7.2"/><circle cx="399.4" cy="498.9" r="7.2"/><circle cx="438.6" cy="593.1" r="7.2"/><circle cx="454.9" cy="487.6" r="7.2"/><circle cx="408.0" cy="415.9" r="7.2"/><circle cx="386.9" cy="405.8" r="7.2"/><circle cx="496.9" cy="430.9" r="7.2"/><circle cx="448.8" cy="429.2" r="7.2"/><circle cx="393.8" cy="605.8" r="7.2"/><circle cx="399.8" cy="497.7" r="7.2"/><circle cx="456.2" cy="467.0" r="7.2"/><circle cx="444.4" cy="573.8" r="7.2"/><circle cx="467.9" cy="467.8" r="7.2"/><circle cx="392.9" cy="400.3" r="7.2"/><circle cx="451.3" cy="486.3" r="7.2"/><circle cx="383.1" cy="520.0" r="7.2"/><circle cx="424.5" cy="477.9" r="7.2"/><circle cx="444.0" cy="532.4" r="7.2"/><circle cx="491.9" cy="409.7" r="7.2"/><circle cx="412.0" cy="632.6" r="7.2"/><circle cx="456.3" cy="575.2" r="7.2"/><circle cx="397.4" cy="426.0" r="7.2"/><circle cx="494.8" cy="411.8" r="7.2"/><circle cx="393.6" cy="504.9" r="7.2"/><circle cx="427.4" cy="627.4" r="7.2"/><circle cx="411.8" cy="408.1" r="7.2"/><circle cx="456.2" cy="517.4" r="7.2"/><circle cx="397.3" cy="450.9" r="7.2"/><circle cx="379.7" cy="419.0" r="7.2"/><circle cx="432.8" cy="623.5" r="7.2"/><circle cx="457.9" cy="514.3" r="7.2"/><circle cx="458.5" cy="545.5" r="7.2"/><circle cx="392.8" cy="515.3" r="7.2"/><circle cx="428.7" cy="434.3" r="7.2"/><circle cx="397.0" cy="499.9" r="7.2"/><circle cx="393.7" cy="554.2" r="7.2"/><circle cx="459.2" cy="526.7" r="7.2"/><circle cx="427.0" cy="494.9" r="7.2"/><circle cx="396.9" cy="640.5" r="7.2"/><circle cx="454.9" cy="431.7" r="7.2"/><circle cx="440.9" cy="437.6" r="7.2"/><circle cx="412.8" cy="544.7" r="7.2"/><circle cx="393.0" cy="454.5" r="7.2"/><circle cx="485.8" cy="435.6" r="7.2"/><circle cx="382.4" cy="634.3" r="7.2"/><circle cx="449.5" cy="571.8" r="7.2"/><circle cx="442.8" cy="432.9" r="7.2"/><circle cx="488.3" cy="432.3" r="7.2"/><circle cx="406.5" cy="535.0" r="7.2"/><circle cx="402.9" cy="614.2" r="7.2"/><circle cx="404.6" cy="415.2" r="7.2"/><circle cx="392.0" cy="464.3" r="7.2"/><circle cx="457.4" cy="503.8" r="7.2"/><circle cx="376.3" cy="607.0" r="7.2"/><circle cx="387.2" cy="446.0" r="7.2"/><circle cx="427.1" cy="614.9" r="7.2"/><circle cx="394.6" cy="410.9" r="7.2"/><circle cx="465.7" cy="430.9" r="7.2"/><circle cx="409.6" cy="447.9" r="7.2"/><circle cx="427.6" cy="630.0" r="7.2"/><circle cx="382.3" cy="439.8" r="7.2"/><circle cx="409.1" cy="597.5" r="7.2"/><circle cx="489.2" cy="401.5" r="7.2"/><circle cx="414.1" cy="639.8" r="7.2"/><circle cx="390.5" cy="415.4" r="7.2"/><circle cx="405.3" cy="621.7" r="7.2"/><circle cx="404.9" cy="578.9" r="7.2"/><circle cx="386.3" cy="562.8" r="7.2"/><circle cx="392.8" cy="546.7" r="7.2"/><circle cx="423.4" cy="637.1" r="7.2"/><circle cx="384.7" cy="464.7" r="7.2"/><circle cx="404.1" cy="590.9" r="7.2"/><circle cx="432.5" cy="396.0" r="7.2"/><circle cx="382.0" cy="396.9" r="7.2"/><circle cx="400.5" cy="632.8" r="7.2"/><circle cx="458.6" cy="615.1" r="7.2"/><circle cx="460.8" cy="561.9" r="7.2"/><circle cx="460.3" cy="418.6" r="7.2"/><circle cx="485.6" cy="435.0" r="7.2"/><circle cx="428.5" cy="570.3" r="7.2"/><circle cx="411.3" cy="471.0" r="7.2"/><circle cx="464.9" cy="407.0" r="7.2"/><circle cx="421.6" cy="474.8" r="7.2"/><circle cx="463.1" cy="439.3" r="7.2"/><circle cx="388.5" cy="411.9" r="7.2"/><circle cx="387.9" cy="553.9" r="7.2"/><circle cx="430.6" cy="485.6" r="7.2"/><circle cx="411.0" cy="482.6" r="7.2"/><circle cx="384.9" cy="503.1" r="7.2"/><circle cx="405.4" cy="410.2" r="7.2"/><circle cx="388.4" cy="631.6" r="7.2"/><circle cx="400.3" cy="422.8" r="7.2"/><circle cx="464.3" cy="431.6" r="7.2"/><circle cx="382.3" cy="448.6" r="7.2"/><circle cx="382.7" cy="415.6" r="7.2"/><circle cx="432.7" cy="429.9" r="7.2"/><circle cx="394.0" cy="521.8" r="7.2"/><circle cx="426.1" cy="442.4" r="7.2"/><circle cx="390.4" cy="508.4" r="7.2"/><circle cx="385.6" cy="410.8" r="7.2"/><circle cx="432.1" cy="408.1" r="7.2"/><circle cx="392.4" cy="502.6" r="7.2"/><circle cx="424.5" cy="413.4" r="7.2"/><circle cx="481.9" cy="405.4" r="7.2"/><circle cx="498.0" cy="410.3" r="7.2"/><circle cx="454.6" cy="517.9" r="7.2"/><circle cx="441.6" cy="498.3" r="7.2"/><circle cx="452.0" cy="544.6" r="7.2"/><circle cx="413.6" cy="578.6" r="7.2"/><circle cx="401.1" cy="517.8" r="7.2"/><circle cx="438.9" cy="580.4" r="7.2"/><circle cx="380.4" cy="432.4" r="7.2"/><circle cx="394.6" cy="553.0" r="7.2"/><circle cx="393.0" cy="537.7" r="7.2"/><circle cx="399.8" cy="547.3" r="7.2"/><circle cx="424.1" cy="506.4" r="7.2"/><circle cx="394.0" cy="569.1" r="7.2"/><circle cx="415.5" cy="646.2" r="7.2"/><circle cx="435.1" cy="569.0" r="7.2"/><circle cx="373.7" cy="631.6" r="7.2"/><circle cx="384.3" cy="637.0" r="7.2"/><circle cx="429.3" cy="554.9" r="7.2"/><circle cx="429.9" cy="562.6" r="7.2"/><circle cx="460.7" cy="396.4" r="7.2"/><circle cx="453.5" cy="574.8" r="7.2"/><circle cx="440.8" cy="432.0" r="7.2"/><circle cx="396.3" cy="623.4" r="7.2"/><circle cx="379.0" cy="624.7" r="7.2"/><circle cx="386.9" cy="492.9" r="7.2"/><circle cx="451.3" cy="402.6" r="7.2"/><circle cx="428.7" cy="598.6" r="7.2"/><circle cx="420.6" cy="439.8" r="7.2"/><circle cx="378.7" cy="636.8" r="7.2"/><circle cx="384.5" cy="565.7" r="7.2"/><circle cx="453.3" cy="466.4" r="7.2"/><circle cx="443.0" cy="569.9" r="7.2"/><circle cx="397.8" cy="457.4" r="7.2"/><circle cx="490.2" cy="448.0" r="7.2"/><circle cx="434.0" cy="511.0" r="7.2"/><circle cx="440.7" cy="418.4" r="7.2"/><circle cx="445.1" cy="505.4" r="7.2"/><circle cx="386.8" cy="492.8" r="7.2"/><circle cx="457.2" cy="409.4" r="7.2"/><circle cx="399.6" cy="462.8" r="7.2"/><circle cx="433.5" cy="425.3" r="7.2"/><circle cx="371.1" cy="456.2" r="7.2"/><circle cx="435.7" cy="552.0" r="7.2"/><circle cx="476.1" cy="417.1" r="7.2"/><circle cx="437.4" cy="560.0" r="7.2"/><circle cx="410.6" cy="432.9" r="7.2"/><circle cx="372.3" cy="640.1" r="7.2"/><circle cx="448.6" cy="516.6" r="7.2"/><circle cx="459.8" cy="420.4" r="7.2"/><circle cx="468.3" cy="439.7" r="7.2"/><circle cx="447.2" cy="553.8" r="7.2"/><circle cx="394.0" cy="602.9" r="7.2"/><circle cx="419.3" cy="538.6" r="7.2"/><circle cx="384.4" cy="511.0" r="7.2"/><circle cx="411.6" cy="611.0" r="7.2"/><circle cx="422.3" cy="627.2" r="7.2"/><circle cx="386.1" cy="470.7" r="7.2"/><circle cx="388.5" cy="607.3" r="7.2"/><circle cx="422.0" cy="471.7" r="7.2"/><circle cx="389.2" cy="571.3" r="7.2"/><circle cx="400.5" cy="596.7" r="7.2"/><circle cx="446.2" cy="426.3" r="7.2"/><circle cx="480.9" cy="423.2" r="7.2"/><circle cx="405.6" cy="517.5" r="7.2"/><circle cx="458.2" cy="559.8" r="7.2"/><circle cx="412.7" cy="501.2" r="7.2"/><circle cx="393.4" cy="568.3" r="7.2"/><circle cx="408.3" cy="615.8" r="7.2"/><circle cx="404.1" cy="427.3" r="7.2"/><circle cx="390.1" cy="620.0" r="7.2"/><circle cx="477.1" cy="445.5" r="7.2"/><circle cx="466.7" cy="445.3" r="7.2"/><circle cx="451.2" cy="397.7" r="7.2"/><circle cx="445.4" cy="586.4" r="7.2"/><circle cx="436.1" cy="555.1" r="7.2"/><circle cx="386.2" cy="511.7" r="7.2"/><circle cx="410.3" cy="603.9" r="7.2"/><circle cx="445.3" cy="477.8" r="7.2"/><circle cx="430.6" cy="473.6" r="7.2"/><circle cx="450.2" cy="528.3" r="7.2"/><circle cx="430.9" cy="439.5" r="7.2"/><circle cx="454.4" cy="508.7" r="7.2"/><circle cx="415.4" cy="525.7" r="7.2"/><circle cx="387.9" cy="560.3" r="7.2"/><circle cx="391.8" cy="641.9" r="7.2"/><circle cx="450.9" cy="476.2" r="7.2"/><circle cx="382.6" cy="541.2" r="7.2"/><circle cx="399.3" cy="624.1" r="7.2"/><circle cx="463.4" cy="465.6" r="7.2"/><circle cx="423.5" cy="417.1" r="7.2"/><circle cx="400.0" cy="537.4" r="7.2"/><circle cx="384.3" cy="609.0" r="7.2"/><circle cx="419.7" cy="466.5" r="7.2"/><circle cx="428.3" cy="551.0" r="7.2"/><circle cx="399.4" cy="422.1" r="7.2"/><circle cx="448.0" cy="562.7" r="7.2"/><circle cx="443.3" cy="435.8" r="7.2"/><circle cx="440.9" cy="620.8" r="7.2"/><circle cx="388.2" cy="521.5" r="7.2"/><circle cx="425.7" cy="557.8" r="7.2"/><circle cx="400.1" cy="456.4" r="7.2"/><circle cx="400.3" cy="537.4" r="7.2"/><circle cx="409.7" cy="631.5" r="7.2"/><circle cx="423.4" cy="605.3" r="7.2"/><circle cx="445.0" cy="594.6" r="7.2"/><circle cx="494.2" cy="425.9" r="7.2"/><circle cx="423.3" cy="482.1" r="7.2"/><circle cx="375.1" cy="623.5" r="7.2"/><circle cx="397.7" cy="397.2" r="7.2"/><circle cx="382.5" cy="526.4" r="7.2"/><circle cx="456.7" cy="420.9" r="7.2"/><circle cx="470.0" cy="400.8" r="7.2"/><circle cx="425.9" cy="540.2" r="7.2"/><circle cx="436.8" cy="481.5" r="7.2"/><circle cx="436.5" cy="475.5" r="7.2"/><circle cx="456.4" cy="402.7" r="7.2"/><circle cx="415.5" cy="561.1" r="7.2"/><circle cx="429.9" cy="400.0" r="7.2"/><circle cx="430.2" cy="631.6" r="7.2"/><circle cx="438.4" cy="581.3" r="7.2"/><circle cx="420.4" cy="645.0" r="7.2"/><circle cx="438.8" cy="601.7" r="7.2"/><circle cx="451.8" cy="602.4" r="7.2"/><circle cx="421.6" cy="631.7" r="7.2"/><circle cx="414.7" cy="622.6" r="7.2"/><circle cx="443.2" cy="398.0" r="7.2"/><circle cx="443.1" cy="409.9" r="7.2"/><circle cx="438.9" cy="452.0" r="7.2"/><circle cx="449.4" cy="435.2" r="7.2"/><circle cx="413.2" cy="591.4" r="7.2"/><circle cx="445.8" cy="428.9" r="7.2"/><circle cx="498.0" cy="400.5" r="7.2"/><circle cx="424.2" cy="577.0" r="7.2"/><circle cx="446.0" cy="561.4" r="7.2"/><circle cx="487.5" cy="419.5" r="7.2"/><circle cx="436.6" cy="459.2" r="7.2"/><circle cx="448.3" cy="513.5" r="7.2"/><circle cx="452.2" cy="599.1" r="7.2"/><circle cx="435.7" cy="502.9" r="7.2"/><circle cx="442.8" cy="437.9" r="7.2"/><circle cx="435.3" cy="609.3" r="7.2"/><circle cx="462.4" cy="530.6" r="7.2"/><circle cx="426.4" cy="593.4" r="7.2"/><circle cx="451.1" cy="397.7" r="7.2"/><circle cx="443.6" cy="565.6" r="7.2"/><circle cx="417.3" cy="606.6" r="7.2"/><circle cx="408.7" cy="563.8" r="7.2"/><circle cx="443.4" cy="481.9" r="7.2"/><circle cx="409.4" cy="417.5" r="7.2"/><circle cx="415.7" cy="459.9" r="7.2"/><circle cx="442.8" cy="521.1" r="7.2"/><circle cx="482.8" cy="415.3" r="7.2"/><circle cx="415.3" cy="608.0" r="7.2"/><circle cx="473.4" cy="411.3" r="7.2"/><circle cx="467.0" cy="479.4" r="7.2"/><circle cx="379.3" cy="623.8" r="7.2"/><circle cx="387.2" cy="648.0" r="7.2"/><circle cx="429.3" cy="612.4" r="7.2"/><circle cx="432.5" cy="624.6" r="7.2"/><circle cx="467.3" cy="439.0" r="7.2"/><circle cx="374.1" cy="438.4" r="7.2"/><circle cx="449.2" cy="423.1" r="7.2"/><circle cx="380.5" cy="492.4" r="7.2"/><circle cx="377.9" cy="473.3" r="7.2"/><circle cx="452.3" cy="452.9" r="7.2"/><circle cx="418.1" cy="498.1" r="7.2"/><circle cx="480.6" cy="407.2" r="7.2"/><circle cx="475.6" cy="419.1" r="7.2"/><circle cx="457.5" cy="570.1" r="7.2"/><circle cx="389.8" cy="444.4" r="7.2"/><circle cx="488.3" cy="450.9" r="7.2"/><circle cx="402.3" cy="408.2" r="7.2"/></g>
<polygon points="363.5,442.0 372.0,442.0 374.5,448.7 372.0,455.6 375.5,461.7 372.0,466.7 375.3,473.1 372.0,480.3 374.0,488.9 372.0,494.8 373.6,500.5 372.0,505.1 374.0,511.8 372.0,518.9 376.0,527.8 372.0,535.8 374.3,541.6 372.0,550.2 375.5,555.6 372.0,561.0 374.8,567.4 372.0,576.3 375.6,584.0 372.0,590.0 375.6,595.9 372.0,602.9 373.5,610.7 372.0,615.2 374.1,621.5 372.0,627.0 375.8,635.2 372.0,640.5 373.7,645.2 372.0,649.0 363.5,649.0" fill="#848987"/>
<polygon points="227.0,649.0 237.0,650.0 247.0,653.6 259.0,656.6 271.6,662.7 283.8,670.3 303.6,679.5 337.0,687.8 367.6,679.5 390.5,673.4 402.6,667.3 413.3,659.7 431.6,656.6 436.0,649.0" fill="#848987" stroke="#848987" stroke-width="8.5" stroke-linejoin="round"/>
<g fill="#848987"><circle cx="227.2" cy="649.4" r="7.2"/><circle cx="239.8" cy="651.1" r="7.2"/><circle cx="250.6" cy="654.6" r="7.2"/><circle cx="263.8" cy="659.4" r="7.2"/><circle cx="271.9" cy="662.5" r="7.2"/><circle cx="281.5" cy="668.0" r="7.2"/><circle cx="289.7" cy="673.9" r="7.2"/><circle cx="300.6" cy="678.8" r="7.2"/><circle cx="310.3" cy="680.5" r="7.2"/><circle cx="319.2" cy="682.8" r="7.2"/><circle cx="328.9" cy="686.2" r="7.2"/><circle cx="338.6" cy="687.6" r="7.2"/><circle cx="348.8" cy="685.2" r="7.2"/><circle cx="361.4" cy="682.0" r="7.2"/><circle cx="370.2" cy="678.2" r="7.2"/><circle cx="378.9" cy="676.0" r="7.2"/><circle cx="389.8" cy="673.6" r="7.2"/><circle cx="399.5" cy="669.2" r="7.2"/><circle cx="408.6" cy="662.8" r="7.2"/><circle cx="419.0" cy="659.4" r="7.2"/><circle cx="428.9" cy="657.7" r="7.2"/><circle cx="434.9" cy="651.4" r="7.2"/><circle cx="426.9" cy="648.3" r="7.2"/><circle cx="418.8" cy="648.5" r="7.2"/><circle cx="406.6" cy="649.7" r="7.2"/><circle cx="395.4" cy="649.0" r="7.2"/><circle cx="382.8" cy="649.4" r="7.2"/><circle cx="371.7" cy="648.3" r="7.2"/><circle cx="357.5" cy="648.7" r="7.2"/><circle cx="347.3" cy="648.7" r="7.2"/><circle cx="333.9" cy="648.7" r="7.2"/><circle cx="323.1" cy="648.3" r="7.2"/><circle cx="314.5" cy="649.8" r="7.2"/><circle cx="303.9" cy="649.8" r="7.2"/><circle cx="293.3" cy="648.6" r="7.2"/><circle cx="282.6" cy="648.9" r="7.2"/><circle cx="270.7" cy="649.7" r="7.2"/><circle cx="262.5" cy="649.5" r="7.2"/><circle cx="253.5" cy="649.7" r="7.2"/><circle cx="242.0" cy="648.4" r="7.2"/><circle cx="230.3" cy="649.6" r="7.2"/><circle cx="422.5" cy="662.7" r="7.2"/></g>
<path d="M303.2 718.8V38M371 718.8V38" stroke="#BEBEBE" stroke-width="4" stroke-dasharray="7.5 8.2 22.6 8.2" stroke-dashoffset="-1.6" fill="none"/>
<path d="M57.6 649H706.8" stroke="#BEBEBE" stroke-width="4" stroke-dasharray="7.5 8.2 22.6 8.2" stroke-dashoffset="0" fill="none"/>
</g>
<path d="M105.4 718.8v4.6M221.2 718.8v4.6M337.1 718.8v4.6M453 718.8v4.6M568.8 718.8v4.6M684.7 718.8v4.6M57.6 688h-4.6M57.6 538h-4.6M57.6 388h-4.6M57.6 238h-4.6M57.6 88h-4.6" stroke="#333" stroke-width="2.1" fill="none"/>
<text x="105.4" y="739.8" class="tk" text-anchor="middle">−4</text>
<text x="221.2" y="739.8" class="tk" text-anchor="middle">−2</text>
<text x="337.1" y="739.8" class="tk" text-anchor="middle">0</text>
<text x="453" y="739.8" class="tk" text-anchor="middle">2</text>
<text x="568.8" y="739.8" class="tk" text-anchor="middle">4</text>
<text x="684.7" y="739.8" class="tk" text-anchor="middle">6</text>
<text x="48.1" y="693.8" class="tk" text-anchor="end">0</text>
<text x="48.1" y="543.8" class="tk" text-anchor="end">5</text>
<text x="48.1" y="393.8" class="tk" text-anchor="end">10</text>
<text x="48.1" y="243.8" class="tk" text-anchor="end">15</text>
<text x="48.1" y="93.8" class="tk" text-anchor="end">20</text>
<text x="382.2" y="762.7" class="ti" text-anchor="middle">logFC</text>
<text transform="translate(21.5 378.4) rotate(-90)" class="ti" style="font-size:20.5px" text-anchor="middle">−log10(P.Value)</text>
<text x="722.1" y="333.3" class="ti">Significant</text>
<rect x="718.6" y="345.8" width="31.2" height="31.2" fill="#EBEBEB"/>
<circle cx="734.2" cy="361.4" r="7.2" fill="#E2BF2C"/>
<text x="753.6" y="367.2" class="lg" xml:space="preserve">Down  1052</text>
<rect x="718.6" y="377" width="31.2" height="31.2" fill="#EBEBEB"/>
<circle cx="734.2" cy="392.6" r="7.2" fill="#848987"/>
<text x="753.6" y="398.4" class="lg" xml:space="preserve">Not</text>
<rect x="718.6" y="408.2" width="31.2" height="31.2" fill="#EBEBEB"/>
<circle cx="734.2" cy="423.8" r="7.2" fill="#4472C4"/>
<text x="753.6" y="429.6" class="lg" xml:space="preserve">Up  1418</text>
<clipPath id="clipB"><rect x="995" y="42.7" width="649.7" height="680.6"/></clipPath>
<rect x="995" y="42.7" width="649.7" height="680.6" fill="#EBEBEB"/>
<path d="M994.3 42.7V723.3M1114.3 42.7V723.3M1234.3 42.7V723.3M1354.3 42.7V723.3M1474.3 42.7V723.3M1594.3 42.7V723.3M995 764.4H1644.7M995 619.1H1644.7M995 473.8H1644.7M995 328.5H1644.7M995 183.2H1644.7M995 37.9H1644.7" stroke="#fff" stroke-width="1.1" fill="none"/>
<path d="M1054.3 42.7V723.3M1174.3 42.7V723.3M1294.3 42.7V723.3M1414.3 42.7V723.3M1534.3 42.7V723.3M995 691.7H1644.7M995 546.4H1644.7M995 401.1H1644.7M995 255.8H1644.7M995 110.5H1644.7" stroke="#fff" stroke-width="2.1" fill="none"/>
<g clip-path="url(#clipB)">
<polygon points="1230.0,654.0 1230.0,550.0 1240.0,545.0 1249.0,542.0 1258.0,546.0 1266.0,556.0 1266.0,568.0 1270.0,579.0 1276.0,598.0 1280.0,612.0 1284.0,630.0 1290.0,648.0 1293.0,654.0" fill="#848987" stroke="#848987" stroke-width="8.5" stroke-linejoin="round"/>
<polygon points="1296.0,654.0 1298.0,646.0 1302.0,622.0 1306.0,607.0 1310.0,592.0 1316.0,576.0 1320.0,566.0 1328.0,548.0 1336.0,538.0 1343.0,526.0 1352.0,522.0 1364.0,520.0 1364.0,654.0" fill="#848987" stroke="#848987" stroke-width="8.5" stroke-linejoin="round"/>
<g fill="#848987"><circle cx="1235.2" cy="485.5" r="7.2"/><circle cx="1242.8" cy="511.0" r="7.2"/><circle cx="1244.7" cy="524.3" r="7.2"/><circle cx="1268.4" cy="548.9" r="7.2"/><circle cx="1322.4" cy="480.7" r="7.2"/><circle cx="1329.9" cy="484.5" r="7.2"/><circle cx="1343.2" cy="487.4" r="7.2"/><circle cx="1339.4" cy="498.7" r="7.2"/><circle cx="1345.1" cy="502.5" r="7.2"/><circle cx="1335.6" cy="508.2" r="7.2"/><circle cx="1323.3" cy="516.7" r="7.2"/><circle cx="1350.8" cy="470.3" r="7.2"/><circle cx="1352.7" cy="466.5" r="7.2"/><circle cx="1360.3" cy="491.1" r="7.2"/><circle cx="1358.4" cy="502.5" r="7.2"/><circle cx="1350.8" cy="443.8" r="7.2"/><circle cx="1362.1" cy="455.2" r="7.2"/><circle cx="1305.3" cy="570.7" r="7.2"/><circle cx="1312.9" cy="563.1" r="7.2"/><circle cx="1361.5" cy="350.6" r="7.2"/><circle cx="1355.4" cy="387.0" r="7.2"/><circle cx="1362.2" cy="398.2" r="7.2"/><circle cx="1350.6" cy="443.1" r="7.2"/><circle cx="1360.3" cy="441.5" r="7.2"/><circle cx="1363.5" cy="453.5" r="7.2"/><circle cx="1352.2" cy="467.9" r="7.2"/><circle cx="1229.7" cy="550.2" r="7.2"/><circle cx="1238.3" cy="546.7" r="7.2"/><circle cx="1249.0" cy="541.7" r="7.2"/><circle cx="1256.7" cy="544.9" r="7.2"/><circle cx="1264.3" cy="554.7" r="7.2"/><circle cx="1265.8" cy="564.7" r="7.2"/><circle cx="1267.7" cy="574.9" r="7.2"/><circle cx="1270.8" cy="584.0" r="7.2"/><circle cx="1275.2" cy="593.9" r="7.2"/><circle cx="1277.3" cy="603.3" r="7.2"/><circle cx="1280.6" cy="613.0" r="7.2"/><circle cx="1281.5" cy="622.1" r="7.2"/><circle cx="1284.0" cy="631.7" r="7.2"/><circle cx="1287.6" cy="641.3" r="7.2"/><circle cx="1297.3" cy="646.2" r="7.2"/><circle cx="1299.8" cy="633.7" r="7.2"/><circle cx="1302.1" cy="624.1" r="7.2"/><circle cx="1305.1" cy="613.5" r="7.2"/><circle cx="1306.7" cy="603.9" r="7.2"/><circle cx="1309.4" cy="593.3" r="7.2"/><circle cx="1313.8" cy="582.5" r="7.2"/><circle cx="1316.0" cy="573.9" r="7.2"/><circle cx="1320.1" cy="564.8" r="7.2"/><circle cx="1325.4" cy="554.1" r="7.2"/><circle cx="1329.7" cy="545.9" r="7.2"/><circle cx="1337.6" cy="534.9" r="7.2"/><circle cx="1343.9" cy="524.7" r="7.2"/><circle cx="1353.6" cy="522.3" r="7.2"/><circle cx="1362.0" cy="520.1" r="7.2"/></g>
<polygon points="1224.0,575.0 1160.0,578.0 1150.0,592.0 1120.0,605.0 1125.0,620.0 1145.0,640.0 1224.0,645.0" fill="#E2BF2C"/>
<g fill="#E2BF2C"><circle cx="1075.9" cy="502.9" r="7.2"/><circle cx="1129.9" cy="490.9" r="7.2"/><circle cx="1145.6" cy="488.0" r="7.2"/><circle cx="1129.9" cy="513.4" r="7.2"/><circle cx="1148.0" cy="510.5" r="7.2"/><circle cx="1205.9" cy="493.2" r="7.2"/><circle cx="1219.4" cy="500.1" r="7.2"/><circle cx="1208.9" cy="514.5" r="7.2"/><circle cx="1197.2" cy="519.3" r="7.2"/><circle cx="1221.0" cy="526.5" r="7.2"/><circle cx="1170.5" cy="521.2" r="7.2"/><circle cx="1183.3" cy="528.1" r="7.2"/><circle cx="1151.2" cy="527.3" r="7.2"/><circle cx="1142.4" cy="530.5" r="7.2"/><circle cx="1156.9" cy="530.5" r="7.2"/><circle cx="1171.3" cy="546.5" r="7.2"/><circle cx="1161.7" cy="544.9" r="7.2"/><circle cx="1071.9" cy="530.5" r="7.2"/><circle cx="1082.3" cy="525.7" r="7.2"/><circle cx="1094.4" cy="529.2" r="7.2"/><circle cx="1087.1" cy="532.9" r="7.2"/><circle cx="1071.6" cy="538.5" r="7.2"/><circle cx="1111.2" cy="532.9" r="7.2"/><circle cx="1109.6" cy="537.7" r="7.2"/><circle cx="1029.5" cy="556.2" r="7.2"/><circle cx="1048.7" cy="563.4" r="7.2"/><circle cx="1045.5" cy="565.8" r="7.2"/><circle cx="1064.7" cy="559.4" r="7.2"/><circle cx="1025.1" cy="575.1" r="7.2"/><circle cx="1024.6" cy="585.0" r="7.2"/><circle cx="1064.4" cy="575.4" r="7.2"/><circle cx="1063.9" cy="581.0" r="7.2"/><circle cx="1078.3" cy="574.1" r="7.2"/><circle cx="1090.8" cy="579.4" r="7.2"/><circle cx="1101.9" cy="551.3" r="7.2"/><circle cx="1097.6" cy="565.8" r="7.2"/><circle cx="1109.6" cy="565.8" r="7.2"/><circle cx="1123.2" cy="541.7" r="7.2"/><circle cx="1131.2" cy="540.1" r="7.2"/><circle cx="1121.6" cy="549.7" r="7.2"/><circle cx="1121.6" cy="557.8" r="7.2"/><circle cx="1131.2" cy="559.4" r="7.2"/><circle cx="1063.9" cy="610.6" r="7.2"/><circle cx="1075.1" cy="606.6" r="7.2"/><circle cx="1068.4" cy="623.1" r="7.2"/><circle cx="1097.6" cy="621.1" r="7.2"/><circle cx="1113.6" cy="633.1" r="7.2"/><circle cx="1094.4" cy="601.0" r="7.2"/><circle cx="1107.2" cy="591.4" r="7.2"/><circle cx="1116.8" cy="585.0" r="7.2"/><circle cx="1139.2" cy="642.7" r="7.2"/><circle cx="1144.0" cy="645.9" r="7.2"/><circle cx="1144.0" cy="556.2" r="7.2"/><circle cx="1155.3" cy="556.2" r="7.2"/><circle cx="1136.0" cy="572.2" r="7.2"/><circle cx="1196.9" cy="533.7" r="7.2"/><circle cx="1206.5" cy="530.5" r="7.2"/><circle cx="1190.5" cy="541.7" r="7.2"/><circle cx="1203.3" cy="549.7" r="7.2"/><circle cx="1216.2" cy="540.1" r="7.2"/><circle cx="1148.8" cy="570.6" r="7.2"/><circle cx="1166.5" cy="559.4" r="7.2"/><circle cx="1179.3" cy="561.0" r="7.2"/><circle cx="1158.8" cy="605.3" r="7.2"/><circle cx="1199.5" cy="583.1" r="7.2"/><circle cx="1136.4" cy="618.2" r="7.2"/><circle cx="1157.7" cy="586.8" r="7.2"/><circle cx="1147.3" cy="584.0" r="7.2"/><circle cx="1116.6" cy="612.4" r="7.2"/><circle cx="1210.3" cy="617.7" r="7.2"/><circle cx="1176.9" cy="584.7" r="7.2"/><circle cx="1189.0" cy="580.9" r="7.2"/><circle cx="1174.7" cy="624.5" r="7.2"/><circle cx="1176.0" cy="569.8" r="7.2"/><circle cx="1187.0" cy="577.3" r="7.2"/><circle cx="1123.1" cy="611.4" r="7.2"/><circle cx="1157.9" cy="592.7" r="7.2"/><circle cx="1183.5" cy="614.0" r="7.2"/><circle cx="1176.1" cy="591.3" r="7.2"/><circle cx="1218.4" cy="587.7" r="7.2"/><circle cx="1212.7" cy="567.8" r="7.2"/><circle cx="1193.5" cy="641.2" r="7.2"/><circle cx="1204.9" cy="596.8" r="7.2"/><circle cx="1153.1" cy="634.9" r="7.2"/><circle cx="1186.6" cy="628.8" r="7.2"/><circle cx="1118.0" cy="610.2" r="7.2"/><circle cx="1190.2" cy="575.4" r="7.2"/><circle cx="1121.7" cy="632.1" r="7.2"/><circle cx="1168.3" cy="591.5" r="7.2"/><circle cx="1157.7" cy="577.2" r="7.2"/><circle cx="1210.7" cy="642.9" r="7.2"/><circle cx="1171.3" cy="561.5" r="7.2"/><circle cx="1172.2" cy="567.6" r="7.2"/><circle cx="1155.1" cy="640.5" r="7.2"/><circle cx="1169.7" cy="626.5" r="7.2"/><circle cx="1188.6" cy="602.9" r="7.2"/><circle cx="1112.3" cy="601.5" r="7.2"/><circle cx="1138.8" cy="640.5" r="7.2"/><circle cx="1177.7" cy="610.0" r="7.2"/><circle cx="1152.3" cy="630.3" r="7.2"/><circle cx="1195.5" cy="635.1" r="7.2"/><circle cx="1164.1" cy="641.2" r="7.2"/><circle cx="1155.7" cy="580.2" r="7.2"/><circle cx="1113.1" cy="631.2" r="7.2"/><circle cx="1178.9" cy="611.0" r="7.2"/><circle cx="1221.2" cy="612.4" r="7.2"/><circle cx="1135.0" cy="618.3" r="7.2"/><circle cx="1214.5" cy="569.8" r="7.2"/><circle cx="1216.7" cy="592.1" r="7.2"/><circle cx="1109.6" cy="600.8" r="7.2"/><circle cx="1195.7" cy="599.2" r="7.2"/><circle cx="1129.7" cy="625.1" r="7.2"/><circle cx="1108.1" cy="616.1" r="7.2"/><circle cx="1141.7" cy="610.6" r="7.2"/><circle cx="1160.4" cy="579.3" r="7.2"/><circle cx="1121.5" cy="630.1" r="7.2"/><circle cx="1153.9" cy="579.7" r="7.2"/><circle cx="1171.4" cy="625.2" r="7.2"/><circle cx="1106.5" cy="596.1" r="7.2"/><circle cx="1114.6" cy="625.2" r="7.2"/><circle cx="1167.2" cy="601.5" r="7.2"/><circle cx="1164.3" cy="579.2" r="7.2"/><circle cx="1153.3" cy="569.0" r="7.2"/><circle cx="1141.0" cy="609.0" r="7.2"/><circle cx="1173.9" cy="583.5" r="7.2"/><circle cx="1174.5" cy="626.8" r="7.2"/><circle cx="1159.6" cy="569.0" r="7.2"/><circle cx="1200.7" cy="607.8" r="7.2"/><circle cx="1152.0" cy="610.3" r="7.2"/><circle cx="1160.9" cy="572.5" r="7.2"/><circle cx="1212.9" cy="558.3" r="7.2"/><circle cx="1174.4" cy="589.7" r="7.2"/><circle cx="1220.1" cy="583.7" r="7.2"/><circle cx="1216.2" cy="645.1" r="7.2"/><circle cx="1165.7" cy="628.8" r="7.2"/><circle cx="1152.0" cy="584.7" r="7.2"/><circle cx="1213.9" cy="590.7" r="7.2"/><circle cx="1198.1" cy="569.9" r="7.2"/><circle cx="1177.0" cy="561.2" r="7.2"/><circle cx="1200.1" cy="644.1" r="7.2"/><circle cx="1142.5" cy="627.8" r="7.2"/><circle cx="1210.9" cy="575.0" r="7.2"/><circle cx="1217.8" cy="605.9" r="7.2"/><circle cx="1202.1" cy="642.0" r="7.2"/><circle cx="1167.8" cy="574.8" r="7.2"/><circle cx="1111.3" cy="612.7" r="7.2"/><circle cx="1184.6" cy="609.2" r="7.2"/><circle cx="1203.3" cy="556.3" r="7.2"/><circle cx="1199.9" cy="602.6" r="7.2"/><circle cx="1120.8" cy="600.6" r="7.2"/><circle cx="1168.8" cy="637.0" r="7.2"/><circle cx="1179.6" cy="565.8" r="7.2"/><circle cx="1173.5" cy="622.5" r="7.2"/><circle cx="1215.3" cy="613.0" r="7.2"/><circle cx="1127.3" cy="630.8" r="7.2"/><circle cx="1185.2" cy="636.8" r="7.2"/><circle cx="1120.9" cy="631.7" r="7.2"/><circle cx="1156.9" cy="573.8" r="7.2"/><circle cx="1210.7" cy="566.4" r="7.2"/><circle cx="1176.7" cy="576.7" r="7.2"/><circle cx="1204.2" cy="559.2" r="7.2"/><circle cx="1145.3" cy="583.8" r="7.2"/><circle cx="1157.6" cy="611.6" r="7.2"/><circle cx="1206.6" cy="612.7" r="7.2"/><circle cx="1205.0" cy="635.9" r="7.2"/><circle cx="1199.9" cy="555.4" r="7.2"/><circle cx="1103.2" cy="602.2" r="7.2"/><circle cx="1163.3" cy="603.0" r="7.2"/><circle cx="1193.9" cy="625.6" r="7.2"/><circle cx="1123.1" cy="606.8" r="7.2"/><circle cx="1156.0" cy="594.8" r="7.2"/><circle cx="1188.6" cy="620.2" r="7.2"/><circle cx="1186.2" cy="589.1" r="7.2"/><circle cx="1105.8" cy="608.0" r="7.2"/><circle cx="1152.3" cy="643.3" r="7.2"/><circle cx="1174.3" cy="576.8" r="7.2"/><circle cx="1217.7" cy="571.4" r="7.2"/><circle cx="1182.1" cy="559.7" r="7.2"/><circle cx="1218.4" cy="638.6" r="7.2"/><circle cx="1203.0" cy="588.7" r="7.2"/><circle cx="1153.4" cy="599.7" r="7.2"/><circle cx="1214.1" cy="607.7" r="7.2"/><circle cx="1149.4" cy="621.6" r="7.2"/><circle cx="1216.6" cy="625.7" r="7.2"/><circle cx="1111.1" cy="629.9" r="7.2"/><circle cx="1159.7" cy="643.1" r="7.2"/><circle cx="1223.6" cy="572.2" r="7.2"/><circle cx="1123.1" cy="628.2" r="7.2"/><circle cx="1151.0" cy="591.7" r="7.2"/><circle cx="1175.4" cy="565.8" r="7.2"/><circle cx="1195.2" cy="576.6" r="7.2"/><circle cx="1161.9" cy="573.5" r="7.2"/><circle cx="1145.6" cy="593.8" r="7.2"/><circle cx="1138.0" cy="616.2" r="7.2"/><circle cx="1221.1" cy="575.5" r="7.2"/><circle cx="1177.6" cy="584.8" r="7.2"/><circle cx="1219.9" cy="629.9" r="7.2"/><circle cx="1180.4" cy="618.9" r="7.2"/><circle cx="1136.3" cy="639.2" r="7.2"/><circle cx="1215.3" cy="576.1" r="7.2"/><circle cx="1162.9" cy="611.1" r="7.2"/><circle cx="1199.0" cy="638.2" r="7.2"/><circle cx="1144.4" cy="594.7" r="7.2"/><circle cx="1146.3" cy="638.2" r="7.2"/><circle cx="1184.3" cy="598.6" r="7.2"/><circle cx="1145.4" cy="595.8" r="7.2"/><circle cx="1210.3" cy="567.0" r="7.2"/><circle cx="1215.4" cy="525.6" r="7.2"/><circle cx="1220.5" cy="528.5" r="7.2"/><circle cx="1160.3" cy="557.5" r="7.2"/><circle cx="1147.3" cy="540.4" r="7.2"/><circle cx="1124.2" cy="560.3" r="7.2"/><circle cx="1222.2" cy="525.6" r="7.2"/><circle cx="1166.7" cy="552.1" r="7.2"/><circle cx="1145.8" cy="544.0" r="7.2"/><circle cx="1172.0" cy="545.1" r="7.2"/><circle cx="1216.3" cy="531.5" r="7.2"/><circle cx="1145.8" cy="538.4" r="7.2"/><circle cx="1217.6" cy="531.5" r="7.2"/><circle cx="1139.6" cy="536.8" r="7.2"/><circle cx="1187.1" cy="530.3" r="7.2"/><circle cx="1125.6" cy="550.2" r="7.2"/><circle cx="1173.4" cy="543.5" r="7.2"/><circle cx="1212.8" cy="561.5" r="7.2"/><circle cx="1205.7" cy="534.3" r="7.2"/><circle cx="1172.3" cy="557.5" r="7.2"/><circle cx="1145.8" cy="535.6" r="7.2"/><circle cx="1190.0" cy="533.1" r="7.2"/><circle cx="1161.4" cy="533.9" r="7.2"/><circle cx="1203.0" cy="540.8" r="7.2"/><circle cx="1181.5" cy="523.1" r="7.2"/><circle cx="1184.6" cy="527.8" r="7.2"/><circle cx="1168.2" cy="533.1" r="7.2"/><circle cx="1182.9" cy="523.8" r="7.2"/></g>
<polygon points="1368.0,462.0 1425.0,462.0 1445.0,490.0 1445.0,550.0 1425.0,585.0 1410.0,620.0 1398.0,642.0 1368.0,646.0" fill="#4472C4"/>
<g fill="#4472C4"><circle cx="1580.9" cy="73.6" r="7.2"/><circle cx="1559.9" cy="86.9" r="7.2"/><circle cx="1549.1" cy="94.9" r="7.2"/><circle cx="1493.0" cy="109.8" r="7.2"/><circle cx="1474.1" cy="153.9" r="7.2"/><circle cx="1510.3" cy="153.4" r="7.2"/><circle cx="1500.2" cy="162.2" r="7.2"/><circle cx="1501.8" cy="174.2" r="7.2"/><circle cx="1432.1" cy="173.1" r="7.2"/><circle cx="1454.6" cy="177.1" r="7.2"/><circle cx="1555.9" cy="173.1" r="7.2"/><circle cx="1532.8" cy="181.4" r="7.2"/><circle cx="1483.4" cy="196.6" r="7.2"/><circle cx="1453.8" cy="201.0" r="7.2"/><circle cx="1461.3" cy="209.5" r="7.2"/><circle cx="1474.6" cy="209.5" r="7.2"/><circle cx="1528.0" cy="200.3" r="7.2"/><circle cx="1529.9" cy="216.7" r="7.2"/><circle cx="1526.4" cy="227.1" r="7.2"/><circle cx="1539.2" cy="228.7" r="7.2"/><circle cx="1419.6" cy="220.4" r="7.2"/><circle cx="1444.6" cy="222.3" r="7.2"/><circle cx="1420.6" cy="237.2" r="7.2"/><circle cx="1437.7" cy="236.7" r="7.2"/><circle cx="1451.4" cy="236.7" r="7.2"/><circle cx="1482.6" cy="234.0" r="7.2"/><circle cx="1497.0" cy="232.7" r="7.2"/><circle cx="1501.0" cy="238.3" r="7.2"/><circle cx="1489.8" cy="242.3" r="7.2"/><circle cx="1497.0" cy="247.9" r="7.2"/><circle cx="1473.3" cy="241.2" r="7.2"/><circle cx="1458.6" cy="248.4" r="7.2"/><circle cx="1614.8" cy="235.6" r="7.2"/><circle cx="1387.2" cy="242.8" r="7.2"/><circle cx="1420.1" cy="252.3" r="7.2"/><circle cx="1438.5" cy="251.6" r="7.2"/><circle cx="1526.7" cy="254.8" r="7.2"/><circle cx="1391.3" cy="273.0" r="7.2"/><circle cx="1423.3" cy="267.5" r="7.2"/><circle cx="1438.5" cy="262.2" r="7.2"/><circle cx="1440.1" cy="270.2" r="7.2"/><circle cx="1462.6" cy="262.2" r="7.2"/><circle cx="1482.6" cy="262.2" r="7.2"/><circle cx="1505.8" cy="265.9" r="7.2"/><circle cx="1529.9" cy="267.0" r="7.2"/><circle cx="1524.3" cy="281.9" r="7.2"/><circle cx="1556.3" cy="280.3" r="7.2"/><circle cx="1565.1" cy="275.8" r="7.2"/><circle cx="1576.0" cy="279.8" r="7.2"/><circle cx="1454.6" cy="272.6" r="7.2"/><circle cx="1438.5" cy="282.2" r="7.2"/><circle cx="1435.3" cy="280.6" r="7.2"/><circle cx="1465.8" cy="275.8" r="7.2"/><circle cx="1475.4" cy="280.6" r="7.2"/><circle cx="1491.4" cy="273.4" r="7.2"/><circle cx="1493.0" cy="280.6" r="7.2"/><circle cx="1481.8" cy="285.5" r="7.2"/><circle cx="1473.8" cy="295.1" r="7.2"/><circle cx="1493.8" cy="297.5" r="7.2"/><circle cx="1506.6" cy="299.1" r="7.2"/><circle cx="1500.2" cy="304.7" r="7.2"/><circle cx="1491.4" cy="306.3" r="7.2"/><circle cx="1478.6" cy="303.1" r="7.2"/><circle cx="1429.7" cy="297.0" r="7.2"/><circle cx="1442.1" cy="302.8" r="7.2"/><circle cx="1413.7" cy="302.8" r="7.2"/><circle cx="1400.9" cy="303.1" r="7.2"/><circle cx="1391.3" cy="306.6" r="7.2"/><circle cx="1374.4" cy="311.9" r="7.2"/><circle cx="1554.7" cy="308.7" r="7.2"/><circle cx="1586.0" cy="311.9" r="7.2"/><circle cx="1559.5" cy="324.7" r="7.2"/><circle cx="1566.8" cy="324.7" r="7.2"/><circle cx="1512.3" cy="319.1" r="7.2"/><circle cx="1519.5" cy="317.2" r="7.2"/><circle cx="1521.9" cy="328.7" r="7.2"/><circle cx="1424.1" cy="316.7" r="7.2"/><circle cx="1411.3" cy="326.3" r="7.2"/><circle cx="1428.9" cy="323.9" r="7.2"/><circle cx="1443.3" cy="319.1" r="7.2"/><circle cx="1453.0" cy="316.7" r="7.2"/><circle cx="1465.0" cy="311.1" r="7.2"/><circle cx="1475.4" cy="315.9" r="7.2"/><circle cx="1478.6" cy="320.7" r="7.2"/><circle cx="1464.2" cy="325.5" r="7.2"/><circle cx="1446.5" cy="328.7" r="7.2"/><circle cx="1433.7" cy="330.3" r="7.2"/><circle cx="1417.7" cy="336.7" r="7.2"/><circle cx="1401.7" cy="342.3" r="7.2"/><circle cx="1391.3" cy="348.8" r="7.2"/><circle cx="1379.2" cy="352.0" r="7.2"/><circle cx="1416.9" cy="349.6" r="7.2"/><circle cx="1432.1" cy="351.2" r="7.2"/><circle cx="1444.9" cy="349.6" r="7.2"/><circle cx="1454.6" cy="346.4" r="7.2"/><circle cx="1472.2" cy="339.9" r="7.2"/><circle cx="1496.2" cy="336.7" r="7.2"/><circle cx="1499.4" cy="346.4" r="7.2"/><circle cx="1488.2" cy="347.2" r="7.2"/><circle cx="1517.9" cy="350.8" r="7.2"/><circle cx="1559.5" cy="358.9" r="7.2"/><circle cx="1380.8" cy="370.4" r="7.2"/><circle cx="1404.9" cy="367.2" r="7.2"/><circle cx="1419.3" cy="365.6" r="7.2"/><circle cx="1435.3" cy="364.0" r="7.2"/><circle cx="1446.5" cy="372.0" r="7.2"/><circle cx="1459.4" cy="365.6" r="7.2"/><circle cx="1472.2" cy="359.2" r="7.2"/><circle cx="1475.4" cy="367.2" r="7.2"/><circle cx="1488.2" cy="367.2" r="7.2"/><circle cx="1513.9" cy="370.4" r="7.2"/><circle cx="1527.5" cy="371.2" r="7.2"/><circle cx="1520.3" cy="381.6" r="7.2"/><circle cx="1528.3" cy="378.4" r="7.2"/><circle cx="1494.6" cy="383.2" r="7.2"/><circle cx="1438.5" cy="375.2" r="7.2"/><circle cx="1421.7" cy="383.2" r="7.2"/><circle cx="1408.1" cy="386.4" r="7.2"/><circle cx="1390.5" cy="385.6" r="7.2"/><circle cx="1373.6" cy="391.2" r="7.2"/><circle cx="1464.2" cy="379.2" r="7.2"/><circle cx="1475.4" cy="386.4" r="7.2"/><circle cx="1444.9" cy="391.2" r="7.2"/><circle cx="1427.3" cy="400.0" r="7.2"/><circle cx="1446.5" cy="399.2" r="7.2"/><circle cx="1461.0" cy="405.7" r="7.2"/><circle cx="1485.0" cy="396.0" r="7.2"/><circle cx="1497.8" cy="397.6" r="7.2"/><circle cx="1521.1" cy="404.1" r="7.2"/><circle cx="1518.7" cy="412.1" r="7.2"/><circle cx="1494.6" cy="411.3" r="7.2"/><circle cx="1556.3" cy="397.3" r="7.2"/><circle cx="1533.9" cy="417.2" r="7.2"/><circle cx="1590.3" cy="417.4" r="7.2"/><circle cx="1379.2" cy="405.7" r="7.2"/><circle cx="1392.1" cy="399.2" r="7.2"/><circle cx="1404.9" cy="407.3" r="7.2"/><circle cx="1416.1" cy="408.9" r="7.2"/><circle cx="1505.8" cy="418.5" r="7.2"/><circle cx="1504.2" cy="428.1" r="7.2"/><circle cx="1486.6" cy="431.3" r="7.2"/><circle cx="1470.6" cy="430.5" r="7.2"/><circle cx="1554.2" cy="439.8" r="7.2"/><circle cx="1512.3" cy="446.5" r="7.2"/><circle cx="1488.2" cy="441.7" r="7.2"/><circle cx="1507.5" cy="455.3" r="7.2"/><circle cx="1495.6" cy="468.0" r="7.2"/><circle cx="1499.1" cy="478.5" r="7.2"/><circle cx="1496.8" cy="488.9" r="7.2"/><circle cx="1477.2" cy="473.2" r="7.2"/><circle cx="1479.9" cy="497.7" r="7.2"/><circle cx="1469.4" cy="487.2" r="7.2"/><circle cx="1492.1" cy="512.5" r="7.2"/><circle cx="1479.9" cy="516.9" r="7.2"/><circle cx="1469.4" cy="516.9" r="7.2"/><circle cx="1458.9" cy="504.7" r="7.2"/><circle cx="1460.6" cy="527.4" r="7.2"/><circle cx="1462.4" cy="534.4" r="7.2"/><circle cx="1539.3" cy="503.8" r="7.2"/><circle cx="1488.6" cy="543.7" r="7.2"/><circle cx="1476.4" cy="548.4" r="7.2"/><circle cx="1462.4" cy="546.6" r="7.2"/><circle cx="1481.9" cy="567.6" r="7.2"/><circle cx="1466.7" cy="571.1" r="7.2"/><circle cx="1465.9" cy="583.3" r="7.2"/><circle cx="1487.2" cy="589.8" r="7.2"/><circle cx="1451.9" cy="581.6" r="7.2"/><circle cx="1441.4" cy="583.3" r="7.2"/><circle cx="1468.5" cy="608.7" r="7.2"/><circle cx="1458.9" cy="607.8" r="7.2"/><circle cx="1446.6" cy="597.3" r="7.2"/><circle cx="1430.9" cy="597.3" r="7.2"/><circle cx="1437.9" cy="613.1" r="7.2"/><circle cx="1425.7" cy="614.8" r="7.2"/><circle cx="1436.1" cy="624.4" r="7.2"/><circle cx="1422.2" cy="631.4" r="7.2"/><circle cx="1451.0" cy="634.0" r="7.2"/><circle cx="1428.3" cy="645.4" r="7.2"/><circle cx="1438.8" cy="644.5" r="7.2"/><circle cx="1411.7" cy="637.5" r="7.2"/><circle cx="1398.3" cy="369.2" r="7.2"/><circle cx="1389.5" cy="401.8" r="7.2"/><circle cx="1397.0" cy="374.3" r="7.2"/><circle cx="1472.0" cy="358.5" r="7.2"/><circle cx="1476.5" cy="392.6" r="7.2"/><circle cx="1431.2" cy="382.2" r="7.2"/><circle cx="1435.3" cy="354.7" r="7.2"/><circle cx="1375.1" cy="344.3" r="7.2"/><circle cx="1423.6" cy="401.1" r="7.2"/><circle cx="1391.2" cy="380.8" r="7.2"/><circle cx="1411.7" cy="398.1" r="7.2"/><circle cx="1472.1" cy="395.7" r="7.2"/><circle cx="1392.9" cy="395.5" r="7.2"/><circle cx="1419.3" cy="403.4" r="7.2"/><circle cx="1422.8" cy="410.5" r="7.2"/><circle cx="1461.2" cy="401.5" r="7.2"/><circle cx="1435.9" cy="335.8" r="7.2"/><circle cx="1373.7" cy="362.3" r="7.2"/><circle cx="1416.8" cy="338.5" r="7.2"/><circle cx="1469.6" cy="374.1" r="7.2"/><circle cx="1391.3" cy="354.5" r="7.2"/><circle cx="1420.6" cy="330.0" r="7.2"/><circle cx="1454.4" cy="384.5" r="7.2"/><circle cx="1456.9" cy="419.7" r="7.2"/><circle cx="1472.6" cy="383.7" r="7.2"/><circle cx="1430.2" cy="371.4" r="7.2"/><circle cx="1459.9" cy="412.4" r="7.2"/><circle cx="1461.7" cy="403.6" r="7.2"/><circle cx="1375.0" cy="360.9" r="7.2"/><circle cx="1381.4" cy="377.7" r="7.2"/><circle cx="1434.6" cy="375.2" r="7.2"/><circle cx="1464.7" cy="340.9" r="7.2"/><circle cx="1450.7" cy="377.8" r="7.2"/><circle cx="1395.0" cy="417.8" r="7.2"/><circle cx="1377.8" cy="365.4" r="7.2"/><circle cx="1429.8" cy="378.7" r="7.2"/><circle cx="1478.1" cy="374.3" r="7.2"/><circle cx="1467.8" cy="348.0" r="7.2"/><circle cx="1424.0" cy="333.0" r="7.2"/><circle cx="1441.1" cy="361.1" r="7.2"/><circle cx="1422.1" cy="415.8" r="7.2"/><circle cx="1373.2" cy="385.4" r="7.2"/><circle cx="1445.2" cy="392.0" r="7.2"/><circle cx="1432.2" cy="369.1" r="7.2"/><circle cx="1448.0" cy="386.2" r="7.2"/><circle cx="1450.7" cy="366.7" r="7.2"/><circle cx="1373.8" cy="397.1" r="7.2"/><circle cx="1402.2" cy="397.8" r="7.2"/><circle cx="1415.5" cy="405.4" r="7.2"/><circle cx="1413.7" cy="350.6" r="7.2"/><circle cx="1433.7" cy="384.6" r="7.2"/><circle cx="1446.1" cy="374.4" r="7.2"/><circle cx="1416.1" cy="393.7" r="7.2"/><circle cx="1407.0" cy="379.9" r="7.2"/><circle cx="1372.6" cy="331.4" r="7.2"/><circle cx="1465.7" cy="340.0" r="7.2"/><circle cx="1416.6" cy="323.4" r="7.2"/><circle cx="1454.6" cy="351.5" r="7.2"/><circle cx="1440.9" cy="524.4" r="7.2"/><circle cx="1461.4" cy="442.9" r="7.2"/><circle cx="1383.4" cy="489.9" r="7.2"/><circle cx="1405.0" cy="405.8" r="7.2"/><circle cx="1371.4" cy="445.7" r="7.2"/><circle cx="1388.4" cy="471.9" r="7.2"/><circle cx="1446.5" cy="507.4" r="7.2"/><circle cx="1425.0" cy="571.5" r="7.2"/><circle cx="1457.4" cy="539.5" r="7.2"/><circle cx="1379.1" cy="533.6" r="7.2"/><circle cx="1420.2" cy="448.1" r="7.2"/><circle cx="1373.8" cy="449.3" r="7.2"/><circle cx="1433.6" cy="510.1" r="7.2"/><circle cx="1433.4" cy="535.9" r="7.2"/><circle cx="1412.4" cy="446.1" r="7.2"/><circle cx="1377.1" cy="448.2" r="7.2"/><circle cx="1377.6" cy="553.5" r="7.2"/><circle cx="1396.6" cy="542.3" r="7.2"/><circle cx="1409.5" cy="540.5" r="7.2"/><circle cx="1379.9" cy="643.9" r="7.2"/><circle cx="1450.1" cy="463.0" r="7.2"/><circle cx="1420.1" cy="571.5" r="7.2"/><circle cx="1372.1" cy="569.7" r="7.2"/><circle cx="1379.5" cy="584.8" r="7.2"/><circle cx="1371.4" cy="413.9" r="7.2"/><circle cx="1418.8" cy="442.1" r="7.2"/><circle cx="1442.3" cy="556.0" r="7.2"/><circle cx="1417.0" cy="571.5" r="7.2"/><circle cx="1380.0" cy="518.0" r="7.2"/><circle cx="1368.9" cy="540.4" r="7.2"/><circle cx="1448.1" cy="441.7" r="7.2"/><circle cx="1398.3" cy="455.3" r="7.2"/><circle cx="1390.8" cy="612.2" r="7.2"/><circle cx="1372.5" cy="597.8" r="7.2"/><circle cx="1391.7" cy="592.7" r="7.2"/><circle cx="1384.4" cy="540.6" r="7.2"/><circle cx="1397.6" cy="622.7" r="7.2"/><circle cx="1395.3" cy="445.4" r="7.2"/><circle cx="1407.0" cy="424.7" r="7.2"/><circle cx="1387.6" cy="579.4" r="7.2"/><circle cx="1398.6" cy="449.4" r="7.2"/><circle cx="1463.1" cy="468.5" r="7.2"/><circle cx="1423.0" cy="565.8" r="7.2"/><circle cx="1437.5" cy="470.3" r="7.2"/><circle cx="1433.5" cy="530.3" r="7.2"/><circle cx="1461.8" cy="432.2" r="7.2"/><circle cx="1371.2" cy="585.6" r="7.2"/><circle cx="1370.1" cy="597.8" r="7.2"/><circle cx="1391.9" cy="533.1" r="7.2"/><circle cx="1450.6" cy="481.7" r="7.2"/><circle cx="1389.9" cy="432.3" r="7.2"/><circle cx="1400.3" cy="428.6" r="7.2"/><circle cx="1369.9" cy="535.4" r="7.2"/><circle cx="1392.1" cy="536.0" r="7.2"/><circle cx="1436.3" cy="533.6" r="7.2"/><circle cx="1366.6" cy="551.0" r="7.2"/><circle cx="1425.4" cy="469.7" r="7.2"/><circle cx="1389.8" cy="600.3" r="7.2"/><circle cx="1377.0" cy="583.6" r="7.2"/><circle cx="1408.8" cy="441.7" r="7.2"/><circle cx="1372.2" cy="506.3" r="7.2"/><circle cx="1407.0" cy="565.3" r="7.2"/><circle cx="1445.1" cy="423.5" r="7.2"/><circle cx="1414.0" cy="629.4" r="7.2"/><circle cx="1415.6" cy="625.8" r="7.2"/><circle cx="1433.0" cy="430.7" r="7.2"/><circle cx="1396.5" cy="529.5" r="7.2"/><circle cx="1420.7" cy="596.5" r="7.2"/><circle cx="1447.3" cy="565.3" r="7.2"/><circle cx="1393.1" cy="562.7" r="7.2"/><circle cx="1417.1" cy="593.4" r="7.2"/><circle cx="1393.1" cy="602.0" r="7.2"/><circle cx="1439.6" cy="447.9" r="7.2"/><circle cx="1410.8" cy="487.7" r="7.2"/><circle cx="1405.0" cy="604.0" r="7.2"/><circle cx="1420.4" cy="520.7" r="7.2"/><circle cx="1377.0" cy="626.1" r="7.2"/><circle cx="1408.5" cy="409.7" r="7.2"/><circle cx="1388.7" cy="478.2" r="7.2"/><circle cx="1447.3" cy="447.7" r="7.2"/><circle cx="1380.6" cy="629.7" r="7.2"/><circle cx="1396.4" cy="636.6" r="7.2"/><circle cx="1386.3" cy="501.1" r="7.2"/><circle cx="1421.1" cy="485.4" r="7.2"/><circle cx="1426.2" cy="429.8" r="7.2"/><circle cx="1424.1" cy="415.3" r="7.2"/><circle cx="1405.8" cy="575.0" r="7.2"/><circle cx="1404.6" cy="531.7" r="7.2"/><circle cx="1377.0" cy="599.5" r="7.2"/><circle cx="1432.7" cy="484.4" r="7.2"/><circle cx="1409.9" cy="617.1" r="7.2"/><circle cx="1369.2" cy="458.1" r="7.2"/><circle cx="1421.4" cy="561.3" r="7.2"/><circle cx="1365.1" cy="546.3" r="7.2"/><circle cx="1422.9" cy="421.4" r="7.2"/><circle cx="1420.1" cy="466.7" r="7.2"/><circle cx="1400.6" cy="601.6" r="7.2"/><circle cx="1373.2" cy="562.7" r="7.2"/><circle cx="1400.1" cy="590.0" r="7.2"/><circle cx="1367.9" cy="512.8" r="7.2"/><circle cx="1439.6" cy="534.2" r="7.2"/><circle cx="1414.6" cy="442.8" r="7.2"/><circle cx="1381.5" cy="413.9" r="7.2"/><circle cx="1413.4" cy="469.0" r="7.2"/><circle cx="1425.6" cy="520.5" r="7.2"/><circle cx="1398.0" cy="594.6" r="7.2"/><circle cx="1399.7" cy="519.0" r="7.2"/><circle cx="1412.4" cy="578.7" r="7.2"/><circle cx="1419.5" cy="563.5" r="7.2"/><circle cx="1367.4" cy="406.8" r="7.2"/><circle cx="1376.1" cy="581.2" r="7.2"/><circle cx="1445.0" cy="505.5" r="7.2"/><circle cx="1386.9" cy="513.1" r="7.2"/><circle cx="1376.2" cy="464.6" r="7.2"/><circle cx="1411.2" cy="627.7" r="7.2"/><circle cx="1441.1" cy="431.6" r="7.2"/><circle cx="1458.1" cy="445.4" r="7.2"/><circle cx="1390.8" cy="547.3" r="7.2"/><circle cx="1451.6" cy="520.5" r="7.2"/><circle cx="1426.8" cy="454.3" r="7.2"/><circle cx="1451.1" cy="464.0" r="7.2"/><circle cx="1434.4" cy="438.7" r="7.2"/><circle cx="1375.6" cy="505.0" r="7.2"/><circle cx="1380.9" cy="534.7" r="7.2"/><circle cx="1388.9" cy="637.4" r="7.2"/><circle cx="1389.9" cy="469.7" r="7.2"/><circle cx="1378.7" cy="541.9" r="7.2"/><circle cx="1440.4" cy="526.3" r="7.2"/><circle cx="1418.0" cy="445.6" r="7.2"/><circle cx="1412.4" cy="614.9" r="7.2"/><circle cx="1372.4" cy="459.5" r="7.2"/><circle cx="1419.4" cy="528.3" r="7.2"/><circle cx="1384.6" cy="592.3" r="7.2"/><circle cx="1443.5" cy="477.7" r="7.2"/><circle cx="1453.8" cy="522.0" r="7.2"/><circle cx="1390.1" cy="467.7" r="7.2"/><circle cx="1405.7" cy="602.3" r="7.2"/><circle cx="1407.7" cy="532.8" r="7.2"/><circle cx="1384.9" cy="513.2" r="7.2"/><circle cx="1380.7" cy="415.1" r="7.2"/><circle cx="1386.1" cy="539.1" r="7.2"/><circle cx="1405.9" cy="572.7" r="7.2"/><circle cx="1422.6" cy="460.0" r="7.2"/><circle cx="1465.7" cy="439.7" r="7.2"/><circle cx="1398.6" cy="494.1" r="7.2"/><circle cx="1444.1" cy="572.7" r="7.2"/><circle cx="1369.2" cy="522.2" r="7.2"/><circle cx="1400.9" cy="440.4" r="7.2"/><circle cx="1366.9" cy="521.6" r="7.2"/><circle cx="1387.4" cy="475.2" r="7.2"/><circle cx="1431.2" cy="548.9" r="7.2"/><circle cx="1403.4" cy="442.1" r="7.2"/><circle cx="1452.2" cy="497.8" r="7.2"/><circle cx="1394.9" cy="531.8" r="7.2"/><circle cx="1373.6" cy="524.8" r="7.2"/><circle cx="1375.9" cy="485.3" r="7.2"/><circle cx="1431.3" cy="586.3" r="7.2"/><circle cx="1373.9" cy="560.4" r="7.2"/><circle cx="1393.0" cy="460.3" r="7.2"/><circle cx="1433.9" cy="487.0" r="7.2"/><circle cx="1458.0" cy="533.8" r="7.2"/><circle cx="1381.4" cy="436.2" r="7.2"/><circle cx="1369.1" cy="636.4" r="7.2"/><circle cx="1440.8" cy="567.6" r="7.2"/><circle cx="1442.2" cy="422.8" r="7.2"/><circle cx="1432.1" cy="519.0" r="7.2"/><circle cx="1405.6" cy="452.2" r="7.2"/><circle cx="1434.6" cy="417.7" r="7.2"/><circle cx="1369.3" cy="566.9" r="7.2"/><circle cx="1433.2" cy="424.7" r="7.2"/><circle cx="1368.8" cy="623.4" r="7.2"/><circle cx="1429.1" cy="419.7" r="7.2"/><circle cx="1397.2" cy="476.5" r="7.2"/><circle cx="1410.4" cy="632.9" r="7.2"/><circle cx="1462.8" cy="445.6" r="7.2"/><circle cx="1384.9" cy="577.5" r="7.2"/><circle cx="1373.9" cy="592.7" r="7.2"/><circle cx="1443.8" cy="451.4" r="7.2"/><circle cx="1419.2" cy="462.0" r="7.2"/><circle cx="1368.3" cy="607.4" r="7.2"/><circle cx="1371.0" cy="552.8" r="7.2"/><circle cx="1396.9" cy="555.4" r="7.2"/><circle cx="1400.4" cy="564.1" r="7.2"/><circle cx="1463.3" cy="433.9" r="7.2"/><circle cx="1437.1" cy="529.5" r="7.2"/><circle cx="1461.4" cy="481.5" r="7.2"/><circle cx="1366.7" cy="442.6" r="7.2"/><circle cx="1419.4" cy="552.5" r="7.2"/><circle cx="1455.2" cy="546.8" r="7.2"/><circle cx="1408.0" cy="625.5" r="7.2"/><circle cx="1429.8" cy="457.5" r="7.2"/><circle cx="1407.2" cy="433.9" r="7.2"/><circle cx="1390.8" cy="572.4" r="7.2"/><circle cx="1403.7" cy="620.2" r="7.2"/><circle cx="1412.3" cy="543.1" r="7.2"/><circle cx="1441.7" cy="528.3" r="7.2"/><circle cx="1367.4" cy="449.1" r="7.2"/><circle cx="1435.6" cy="572.5" r="7.2"/><circle cx="1402.8" cy="495.9" r="7.2"/><circle cx="1449.4" cy="471.2" r="7.2"/><circle cx="1380.5" cy="450.7" r="7.2"/><circle cx="1425.4" cy="519.6" r="7.2"/><circle cx="1367.4" cy="590.6" r="7.2"/><circle cx="1395.8" cy="491.5" r="7.2"/><circle cx="1389.0" cy="476.2" r="7.2"/><circle cx="1367.8" cy="428.0" r="7.2"/><circle cx="1370.3" cy="567.3" r="7.2"/><circle cx="1393.0" cy="504.1" r="7.2"/><circle cx="1387.7" cy="553.8" r="7.2"/><circle cx="1395.6" cy="478.4" r="7.2"/><circle cx="1379.3" cy="520.7" r="7.2"/><circle cx="1444.8" cy="462.7" r="7.2"/><circle cx="1424.1" cy="463.6" r="7.2"/><circle cx="1411.6" cy="468.2" r="7.2"/><circle cx="1447.2" cy="430.8" r="7.2"/><circle cx="1435.0" cy="473.1" r="7.2"/><circle cx="1406.1" cy="452.7" r="7.2"/><circle cx="1404.1" cy="561.2" r="7.2"/><circle cx="1431.0" cy="568.4" r="7.2"/><circle cx="1387.1" cy="532.1" r="7.2"/><circle cx="1455.1" cy="522.1" r="7.2"/><circle cx="1373.9" cy="536.8" r="7.2"/><circle cx="1404.2" cy="582.4" r="7.2"/><circle cx="1368.6" cy="581.5" r="7.2"/><circle cx="1467.5" cy="438.3" r="7.2"/><circle cx="1406.7" cy="485.1" r="7.2"/><circle cx="1438.6" cy="431.5" r="7.2"/><circle cx="1394.3" cy="566.1" r="7.2"/><circle cx="1396.2" cy="559.5" r="7.2"/><circle cx="1410.4" cy="504.0" r="7.2"/><circle cx="1367.0" cy="642.3" r="7.2"/><circle cx="1392.8" cy="526.0" r="7.2"/><circle cx="1428.6" cy="552.0" r="7.2"/><circle cx="1454.0" cy="465.1" r="7.2"/><circle cx="1415.6" cy="566.1" r="7.2"/><circle cx="1380.2" cy="503.7" r="7.2"/><circle cx="1373.6" cy="489.3" r="7.2"/><circle cx="1423.8" cy="513.9" r="7.2"/><circle cx="1433.1" cy="531.1" r="7.2"/><circle cx="1445.7" cy="440.6" r="7.2"/><circle cx="1379.1" cy="516.6" r="7.2"/><circle cx="1381.8" cy="506.5" r="7.2"/><circle cx="1374.8" cy="517.6" r="7.2"/><circle cx="1391.1" cy="506.2" r="7.2"/><circle cx="1374.3" cy="551.7" r="7.2"/><circle cx="1449.5" cy="466.2" r="7.2"/><circle cx="1459.5" cy="492.8" r="7.2"/><circle cx="1426.6" cy="573.9" r="7.2"/><circle cx="1405.4" cy="616.6" r="7.2"/><circle cx="1377.8" cy="592.4" r="7.2"/><circle cx="1382.5" cy="599.6" r="7.2"/><circle cx="1375.0" cy="637.3" r="7.2"/><circle cx="1416.8" cy="576.2" r="7.2"/><circle cx="1446.6" cy="537.9" r="7.2"/><circle cx="1429.2" cy="417.0" r="7.2"/><circle cx="1376.2" cy="605.4" r="7.2"/><circle cx="1392.9" cy="556.5" r="7.2"/><circle cx="1381.5" cy="650.5" r="7.2"/><circle cx="1374.7" cy="570.0" r="7.2"/><circle cx="1406.8" cy="550.2" r="7.2"/><circle cx="1377.0" cy="512.6" r="7.2"/><circle cx="1440.9" cy="426.1" r="7.2"/><circle cx="1419.6" cy="569.6" r="7.2"/><circle cx="1448.5" cy="503.9" r="7.2"/><circle cx="1372.1" cy="481.2" r="7.2"/><circle cx="1445.1" cy="474.5" r="7.2"/><circle cx="1366.9" cy="634.8" r="7.2"/><circle cx="1449.9" cy="456.7" r="7.2"/><circle cx="1443.9" cy="545.9" r="7.2"/><circle cx="1447.8" cy="429.4" r="7.2"/><circle cx="1395.1" cy="565.5" r="7.2"/><circle cx="1375.8" cy="411.2" r="7.2"/><circle cx="1383.6" cy="600.8" r="7.2"/><circle cx="1440.6" cy="415.7" r="7.2"/><circle cx="1380.7" cy="446.0" r="7.2"/><circle cx="1383.8" cy="635.7" r="7.2"/><circle cx="1387.9" cy="557.9" r="7.2"/><circle cx="1368.7" cy="466.9" r="7.2"/><circle cx="1407.1" cy="625.2" r="7.2"/><circle cx="1371.9" cy="410.8" r="7.2"/><circle cx="1441.7" cy="490.6" r="7.2"/><circle cx="1413.5" cy="614.0" r="7.2"/><circle cx="1381.5" cy="633.7" r="7.2"/><circle cx="1443.4" cy="469.3" r="7.2"/><circle cx="1368.7" cy="413.2" r="7.2"/><circle cx="1381.9" cy="404.8" r="7.2"/><circle cx="1443.8" cy="441.9" r="7.2"/><circle cx="1392.0" cy="448.1" r="7.2"/><circle cx="1464.2" cy="445.6" r="7.2"/><circle cx="1429.2" cy="412.4" r="7.2"/><circle cx="1416.5" cy="522.3" r="7.2"/><circle cx="1421.0" cy="462.5" r="7.2"/><circle cx="1380.7" cy="521.1" r="7.2"/><circle cx="1401.8" cy="469.9" r="7.2"/><circle cx="1388.2" cy="492.3" r="7.2"/><circle cx="1384.2" cy="404.6" r="7.2"/><circle cx="1383.8" cy="643.1" r="7.2"/><circle cx="1372.7" cy="507.6" r="7.2"/><circle cx="1421.6" cy="415.5" r="7.2"/><circle cx="1404.3" cy="503.1" r="7.2"/><circle cx="1387.0" cy="513.6" r="7.2"/><circle cx="1385.4" cy="418.9" r="7.2"/><circle cx="1374.9" cy="429.0" r="7.2"/><circle cx="1376.6" cy="454.2" r="7.2"/><circle cx="1403.9" cy="591.8" r="7.2"/><circle cx="1402.7" cy="477.6" r="7.2"/><circle cx="1420.7" cy="521.9" r="7.2"/><circle cx="1395.5" cy="526.7" r="7.2"/><circle cx="1405.3" cy="541.6" r="7.2"/><circle cx="1423.9" cy="416.0" r="7.2"/><circle cx="1464.1" cy="457.7" r="7.2"/><circle cx="1459.1" cy="470.2" r="7.2"/><circle cx="1422.2" cy="539.5" r="7.2"/><circle cx="1365.7" cy="587.7" r="7.2"/><circle cx="1406.8" cy="415.2" r="7.2"/><circle cx="1372.9" cy="626.3" r="7.2"/><circle cx="1417.6" cy="422.0" r="7.2"/><circle cx="1447.6" cy="538.3" r="7.2"/><circle cx="1423.3" cy="588.4" r="7.2"/><circle cx="1439.1" cy="441.7" r="7.2"/><circle cx="1394.3" cy="593.3" r="7.2"/><circle cx="1403.0" cy="412.6" r="7.2"/><circle cx="1445.9" cy="522.8" r="7.2"/><circle cx="1408.6" cy="435.9" r="7.2"/><circle cx="1402.7" cy="484.6" r="7.2"/><circle cx="1399.1" cy="438.5" r="7.2"/><circle cx="1385.4" cy="439.0" r="7.2"/><circle cx="1462.1" cy="460.7" r="7.2"/><circle cx="1404.4" cy="515.6" r="7.2"/><circle cx="1405.3" cy="465.9" r="7.2"/><circle cx="1459.0" cy="460.3" r="7.2"/><circle cx="1399.2" cy="461.0" r="7.2"/><circle cx="1389.3" cy="477.8" r="7.2"/><circle cx="1378.6" cy="569.0" r="7.2"/><circle cx="1368.8" cy="619.0" r="7.2"/><circle cx="1368.2" cy="525.5" r="7.2"/><circle cx="1395.6" cy="548.9" r="7.2"/><circle cx="1373.2" cy="633.6" r="7.2"/><circle cx="1420.1" cy="613.6" r="7.2"/><circle cx="1380.3" cy="643.1" r="7.2"/><circle cx="1417.0" cy="532.8" r="7.2"/><circle cx="1455.1" cy="434.3" r="7.2"/><circle cx="1453.8" cy="543.6" r="7.2"/><circle cx="1416.2" cy="515.9" r="7.2"/><circle cx="1419.0" cy="509.5" r="7.2"/><circle cx="1380.1" cy="436.5" r="7.2"/><circle cx="1365.9" cy="546.0" r="7.2"/><circle cx="1410.0" cy="567.6" r="7.2"/><circle cx="1388.2" cy="555.8" r="7.2"/><circle cx="1375.0" cy="517.0" r="7.2"/><circle cx="1442.8" cy="511.5" r="7.2"/><circle cx="1416.8" cy="625.0" r="7.2"/><circle cx="1378.9" cy="614.2" r="7.2"/><circle cx="1406.1" cy="462.8" r="7.2"/><circle cx="1451.5" cy="465.0" r="7.2"/><circle cx="1414.5" cy="444.1" r="7.2"/><circle cx="1445.3" cy="431.3" r="7.2"/><circle cx="1442.6" cy="488.9" r="7.2"/><circle cx="1366.0" cy="449.0" r="7.2"/><circle cx="1370.8" cy="606.6" r="7.2"/><circle cx="1441.8" cy="529.8" r="7.2"/><circle cx="1418.8" cy="543.6" r="7.2"/><circle cx="1399.3" cy="520.2" r="7.2"/><circle cx="1431.7" cy="524.0" r="7.2"/><circle cx="1394.8" cy="462.6" r="7.2"/><circle cx="1371.3" cy="589.2" r="7.2"/><circle cx="1400.7" cy="646.5" r="7.2"/><circle cx="1441.8" cy="424.4" r="7.2"/><circle cx="1385.2" cy="630.3" r="7.2"/><circle cx="1409.1" cy="627.8" r="7.2"/><circle cx="1441.3" cy="493.2" r="7.2"/><circle cx="1422.1" cy="410.7" r="7.2"/><circle cx="1424.4" cy="608.4" r="7.2"/><circle cx="1417.0" cy="596.6" r="7.2"/><circle cx="1405.5" cy="638.4" r="7.2"/><circle cx="1430.7" cy="436.8" r="7.2"/><circle cx="1449.6" cy="473.9" r="7.2"/><circle cx="1400.1" cy="421.1" r="7.2"/><circle cx="1367.1" cy="547.5" r="7.2"/><circle cx="1389.0" cy="540.7" r="7.2"/><circle cx="1377.7" cy="519.8" r="7.2"/><circle cx="1395.5" cy="455.5" r="7.2"/><circle cx="1442.9" cy="501.4" r="7.2"/><circle cx="1369.7" cy="510.0" r="7.2"/><circle cx="1392.9" cy="613.1" r="7.2"/><circle cx="1376.2" cy="572.1" r="7.2"/><circle cx="1441.7" cy="437.6" r="7.2"/><circle cx="1420.7" cy="478.7" r="7.2"/><circle cx="1373.5" cy="613.3" r="7.2"/><circle cx="1424.8" cy="547.2" r="7.2"/><circle cx="1395.5" cy="408.7" r="7.2"/><circle cx="1421.2" cy="568.0" r="7.2"/><circle cx="1425.9" cy="472.9" r="7.2"/><circle cx="1399.0" cy="510.0" r="7.2"/><circle cx="1374.3" cy="453.5" r="7.2"/><circle cx="1434.0" cy="425.2" r="7.2"/><circle cx="1441.0" cy="484.9" r="7.2"/><circle cx="1417.8" cy="577.0" r="7.2"/><circle cx="1430.2" cy="584.9" r="7.2"/><circle cx="1368.3" cy="473.3" r="7.2"/><circle cx="1449.5" cy="426.2" r="7.2"/><circle cx="1392.5" cy="525.1" r="7.2"/><circle cx="1400.1" cy="565.0" r="7.2"/><circle cx="1455.8" cy="456.2" r="7.2"/><circle cx="1386.9" cy="650.9" r="7.2"/><circle cx="1425.1" cy="550.9" r="7.2"/><circle cx="1436.0" cy="574.4" r="7.2"/><circle cx="1375.3" cy="562.3" r="7.2"/><circle cx="1397.2" cy="410.4" r="7.2"/><circle cx="1366.6" cy="426.6" r="7.2"/><circle cx="1415.9" cy="596.9" r="7.2"/><circle cx="1460.1" cy="458.1" r="7.2"/><circle cx="1380.1" cy="436.2" r="7.2"/><circle cx="1382.4" cy="445.4" r="7.2"/><circle cx="1435.3" cy="422.6" r="7.2"/><circle cx="1386.0" cy="519.3" r="7.2"/><circle cx="1382.6" cy="520.1" r="7.2"/><circle cx="1443.6" cy="456.2" r="7.2"/><circle cx="1428.2" cy="480.3" r="7.2"/><circle cx="1440.9" cy="553.0" r="7.2"/><circle cx="1413.3" cy="418.7" r="7.2"/><circle cx="1420.2" cy="596.3" r="7.2"/><circle cx="1397.7" cy="615.1" r="7.2"/><circle cx="1423.7" cy="423.1" r="7.2"/><circle cx="1410.1" cy="571.4" r="7.2"/><circle cx="1391.2" cy="627.8" r="7.2"/><circle cx="1423.6" cy="510.6" r="7.2"/><circle cx="1432.7" cy="563.8" r="7.2"/><circle cx="1372.4" cy="438.4" r="7.2"/><circle cx="1383.0" cy="584.7" r="7.2"/><circle cx="1406.0" cy="597.1" r="7.2"/><circle cx="1392.7" cy="636.4" r="7.2"/><circle cx="1375.4" cy="609.5" r="7.2"/><circle cx="1433.6" cy="447.5" r="7.2"/><circle cx="1381.2" cy="498.9" r="7.2"/></g>
<polygon points="1357.0,525.0 1362.5,525.0 1364.8,529.9 1362.5,536.6 1365.5,545.5 1362.5,553.6 1363.9,561.1 1362.5,569.8 1365.0,576.1 1362.5,580.8 1365.6,586.5 1362.5,591.3 1364.3,596.0 1362.5,601.9 1364.7,608.5 1362.5,613.6 1364.4,617.8 1362.5,623.5 1364.9,630.3 1362.5,638.0 1364.5,644.4 1362.5,651.7 1362.5,654.0 1357.0,654.0" fill="#848987"/>
<polygon points="1163.0,656.5 1182.0,658.4 1205.0,666.0 1220.0,675.5 1245.0,683.0 1270.0,689.0 1294.0,692.0 1320.0,688.5 1339.4,681.1 1367.8,671.7 1386.8,664.0 1408.0,660.3 1411.0,654.0" fill="#848987" stroke="#848987" stroke-width="8.5" stroke-linejoin="round"/>
<g fill="#848987"><circle cx="1163.5" cy="657.0" r="7.2"/><circle cx="1173.5" cy="656.8" r="7.2"/><circle cx="1185.3" cy="659.9" r="7.2"/><circle cx="1195.7" cy="662.4" r="7.2"/><circle cx="1207.1" cy="667.0" r="7.2"/><circle cx="1216.5" cy="672.6" r="7.2"/><circle cx="1227.0" cy="677.1" r="7.2"/><circle cx="1238.6" cy="681.5" r="7.2"/><circle cx="1247.5" cy="684.2" r="7.2"/><circle cx="1260.1" cy="686.0" r="7.2"/><circle cx="1269.8" cy="688.6" r="7.2"/><circle cx="1282.6" cy="690.1" r="7.2"/><circle cx="1293.8" cy="692.7" r="7.2"/><circle cx="1306.8" cy="690.5" r="7.2"/><circle cx="1319.0" cy="689.5" r="7.2"/><circle cx="1326.7" cy="686.0" r="7.2"/><circle cx="1336.5" cy="681.6" r="7.2"/><circle cx="1348.4" cy="677.5" r="7.2"/><circle cx="1359.2" cy="674.0" r="7.2"/><circle cx="1369.2" cy="670.4" r="7.2"/><circle cx="1381.8" cy="665.4" r="7.2"/><circle cx="1392.4" cy="662.6" r="7.2"/><circle cx="1406.0" cy="660.4" r="7.2"/><circle cx="1409.6" cy="653.4" r="7.2"/><circle cx="1395.8" cy="654.0" r="7.2"/><circle cx="1384.3" cy="655.0" r="7.2"/><circle cx="1375.3" cy="655.0" r="7.2"/><circle cx="1363.5" cy="654.4" r="7.2"/><circle cx="1350.9" cy="654.6" r="7.2"/><circle cx="1339.8" cy="654.6" r="7.2"/><circle cx="1330.7" cy="654.4" r="7.2"/><circle cx="1319.8" cy="654.4" r="7.2"/><circle cx="1309.9" cy="655.2" r="7.2"/><circle cx="1299.7" cy="655.0" r="7.2"/><circle cx="1286.8" cy="655.1" r="7.2"/><circle cx="1274.7" cy="655.0" r="7.2"/><circle cx="1263.6" cy="654.9" r="7.2"/><circle cx="1252.9" cy="656.1" r="7.2"/><circle cx="1243.2" cy="656.4" r="7.2"/><circle cx="1229.9" cy="656.0" r="7.2"/><circle cx="1219.7" cy="655.9" r="7.2"/><circle cx="1208.3" cy="655.7" r="7.2"/><circle cx="1198.7" cy="655.4" r="7.2"/><circle cx="1190.3" cy="655.6" r="7.2"/><circle cx="1177.7" cy="657.1" r="7.2"/><circle cx="1164.6" cy="656.0" r="7.2"/><circle cx="1415.2" cy="667.3" r="7.2"/><circle cx="1163.3" cy="663.5" r="7.2"/></g>
<path d="M1224.1 723.3V42.7M1364.5 723.3V42.7" stroke="#BEBEBE" stroke-width="4" stroke-dasharray="7.5 8.2 22.6 8.2" stroke-dashoffset="-1.2" fill="none"/>
<path d="M995 653.9H1644.7" stroke="#BEBEBE" stroke-width="4" stroke-dasharray="7.5 8.2 22.6 8.2" stroke-dashoffset="0" fill="none"/>
</g>
<path d="M1054.3 723.3v4.6M1174.3 723.3v4.6M1294.3 723.3v4.6M1414.3 723.3v4.6M1534.3 723.3v4.6M995 691.7h-4.6M995 546.4h-4.6M995 401.1h-4.6M995 255.8h-4.6M995 110.5h-4.6" stroke="#333" stroke-width="2.1" fill="none"/>
<text x="1054.3" y="744.3" class="tk" text-anchor="middle">−2</text>
<text x="1174.3" y="744.3" class="tk" text-anchor="middle">−1</text>
<text x="1294.3" y="744.3" class="tk" text-anchor="middle">0</text>
<text x="1414.3" y="744.3" class="tk" text-anchor="middle">1</text>
<text x="1534.3" y="744.3" class="tk" text-anchor="middle">2</text>
<text x="985.5" y="697.5" class="tk" text-anchor="end">0</text>
<text x="985.5" y="552.2" class="tk" text-anchor="end">5</text>
<text x="985.5" y="406.9" class="tk" text-anchor="end">10</text>
<text x="985.5" y="261.6" class="tk" text-anchor="end">15</text>
<text x="985.5" y="116.3" class="tk" text-anchor="end">20</text>
<text x="1319.8" y="766.7" class="ti" text-anchor="middle">logFC</text>
<text transform="translate(958.7 383) rotate(-90)" class="ti" style="font-size:20.5px" text-anchor="middle">−log10(P.Value)</text>
<text x="1656.5" y="338.4" class="ti">Significant</text>
<rect x="1656.5" y="350.9" width="31.2" height="31.2" fill="#EBEBEB"/>
<circle cx="1672.1" cy="366.5" r="7.2" fill="#E2BF2C"/>
<text x="1691.5" y="372.3" class="lg" xml:space="preserve">Down  808</text>
<rect x="1656.5" y="382.1" width="31.2" height="31.2" fill="#EBEBEB"/>
<circle cx="1672.1" cy="397.7" r="7.2" fill="#848987"/>
<text x="1691.5" y="403.5" class="lg" xml:space="preserve">Not</text>
<rect x="1656.5" y="413.3" width="31.2" height="31.2" fill="#EBEBEB"/>
<circle cx="1672.1" cy="428.9" r="7.2" fill="#4472C4"/>
<text x="1691.5" y="434.7" class="lg" xml:space="preserve">Up  1149</text>
<circle cx="287.8" cy="1129.8" r="238.75" fill="#E0A199"/>
<circle cx="554.2" cy="1129.8" r="238.75" fill="#B8DCE8"/>
<clipPath id="v287"><circle cx="287.8" cy="1129.8" r="238.75"/></clipPath>
<circle cx="554.2" cy="1129.8" r="238.75" fill="#A3AEB5" clip-path="url(#v287)"/>
<text x="108" y="871" class="vl" fill="#E0A199">GSE31684_UP</text>
<text x="560" y="871" class="vl" fill="#B4DCE8">GSE48276_UP</text>
<text x="202.8" y="1136" class="vn" text-anchor="middle">945</text>
<text x="424.5" y="1136" class="vn" text-anchor="middle">473</text>
<text x="612.8" y="1136" class="vn" text-anchor="middle">676</text>
<circle cx="1207.2" cy="1131.2" r="238.75" fill="#E0A199"/>
<circle cx="1473.2" cy="1131.2" r="238.75" fill="#B8DCE8"/>
<clipPath id="v1207"><circle cx="1207.2" cy="1131.2" r="238.75"/></clipPath>
<circle cx="1473.2" cy="1131.2" r="238.75" fill="#A3AEB5" clip-path="url(#v1207)"/>
<text x="1004" y="873" class="vl" fill="#E0A199">GSE31684_DOWN</text>
<text x="1456" y="873" class="vl" fill="#B4DCE8">GSE48276_DOWN</text>
<text x="1121.8" y="1137.5" class="vn" text-anchor="middle">805</text>
<text x="1343.8" y="1137.5" class="vn" text-anchor="middle">247</text>
<text x="1531" y="1137.5" class="vn" text-anchor="middle">561</text>
<text x="14" y="31.5" class="pl">A</text>
<text x="923.5" y="29.8" class="pl">B</text>
<text transform="translate(16.2 850) scale(1.1 1)" class="pl">C</text>
<text x="917" y="842.5" class="pl">D</text>
</svg></body></html>
